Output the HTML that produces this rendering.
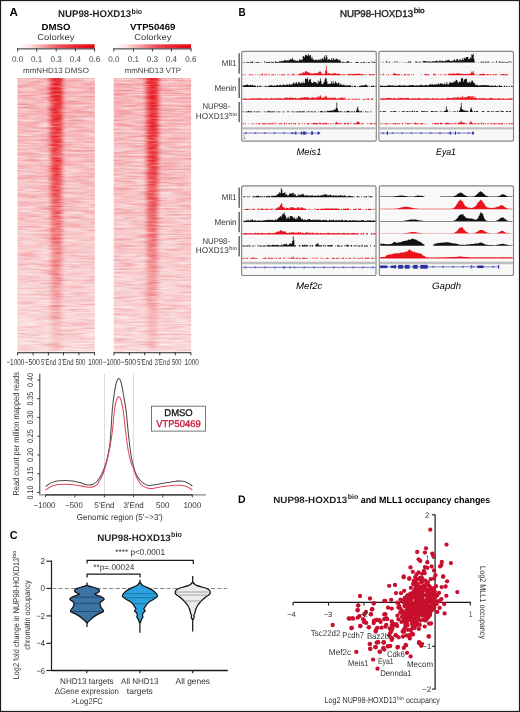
<!DOCTYPE html><html><head><meta charset="utf-8"><style>html,body{margin:0;padding:0;background:#fff;width:520px;height:712px;overflow:hidden}svg{display:block;will-change:transform}text{font-family:"Liberation Sans",sans-serif;text-rendering:geometricPrecision}</style></head><body>
<svg width="520" height="712" viewBox="0 0 520 712">
<rect x="0" y="0" width="520" height="712" fill="#fff"/>
<text x="9.60" y="16.00" font-size="11.6" text-anchor="start" font-weight="bold" fill="#000" textLength="8.4" lengthAdjust="spacingAndGlyphs">A</text>
<text x="58.1" y="17.3" font-size="9.7" font-weight="bold" fill="#231f20"><tspan textLength="73" lengthAdjust="spacingAndGlyphs">NUP98-HOXD13</tspan><tspan font-size="7.4" dy="-3.4" dx="0.5" textLength="10.6" lengthAdjust="spacingAndGlyphs">bio</tspan></text>
<text x="41.50" y="29.60" font-size="8.9" text-anchor="start" font-weight="bold" textLength="29" lengthAdjust="spacingAndGlyphs">DMSO</text>
<text x="129.90" y="29.70" font-size="8.9" text-anchor="start" font-weight="bold" textLength="45.5" lengthAdjust="spacingAndGlyphs">VTP50469</text>
<text x="37.20" y="39.80" font-size="8.6" text-anchor="start" fill="#3a3a3a" textLength="37.4" lengthAdjust="spacingAndGlyphs">Colorkey</text>
<text x="134.20" y="39.80" font-size="8.6" text-anchor="start" fill="#3a3a3a" textLength="37.2" lengthAdjust="spacingAndGlyphs">Colorkey</text>
<defs><linearGradient id="ck" x1="0" x2="1" y1="0" y2="0"><stop offset="0" stop-color="#ffffff"/><stop offset="0.15" stop-color="#fde4e5"/><stop offset="0.35" stop-color="#f59ca1"/><stop offset="0.55" stop-color="#ee4d55"/><stop offset="0.8" stop-color="#e81e28"/><stop offset="1" stop-color="#e3000e"/></linearGradient></defs>
<rect x="17.5" y="44.3" width="77.1" height="4.1" fill="url(#ck)"/>
<line x1="17.1" y1="48.9" x2="95.0" y2="48.9" stroke="#2a2a2a" stroke-width="1"/>
<line x1="17.6" y1="48.4" x2="17.6" y2="51.6" stroke="#2a2a2a" stroke-width="0.9"/>
<line x1="36.7" y1="48.4" x2="36.7" y2="51.6" stroke="#2a2a2a" stroke-width="0.9"/>
<line x1="56.2" y1="48.4" x2="56.2" y2="51.6" stroke="#2a2a2a" stroke-width="0.9"/>
<line x1="75.5" y1="48.4" x2="75.5" y2="51.6" stroke="#2a2a2a" stroke-width="0.9"/>
<line x1="94.6" y1="48.4" x2="94.6" y2="51.6" stroke="#2a2a2a" stroke-width="0.9"/>
<text x="17.60" y="61.80" font-size="8.3" text-anchor="middle" fill="#444" textLength="11.3" lengthAdjust="spacingAndGlyphs">0.0</text>
<text x="36.70" y="61.80" font-size="8.3" text-anchor="middle" fill="#444" textLength="11.3" lengthAdjust="spacingAndGlyphs">0.1</text>
<text x="56.20" y="61.80" font-size="8.3" text-anchor="middle" fill="#444" textLength="11.3" lengthAdjust="spacingAndGlyphs">0.3</text>
<text x="75.50" y="61.80" font-size="8.3" text-anchor="middle" fill="#444" textLength="11.3" lengthAdjust="spacingAndGlyphs">0.4</text>
<text x="94.60" y="61.80" font-size="8.3" text-anchor="middle" fill="#444" textLength="11.3" lengthAdjust="spacingAndGlyphs">0.6</text>
<text x="23.00" y="73.20" font-size="7.7" text-anchor="start" fill="#3a3a3a" textLength="65.9" lengthAdjust="spacingAndGlyphs">mmNHD13 DMSO</text>
<rect x="113.8" y="44.3" width="77.2" height="4.1" fill="url(#ck)"/>
<line x1="113.39999999999999" y1="48.9" x2="191.4" y2="48.9" stroke="#2a2a2a" stroke-width="1"/>
<line x1="113.8" y1="48.4" x2="113.8" y2="51.6" stroke="#2a2a2a" stroke-width="0.9"/>
<line x1="133.4" y1="48.4" x2="133.4" y2="51.6" stroke="#2a2a2a" stroke-width="0.9"/>
<line x1="152.4" y1="48.4" x2="152.4" y2="51.6" stroke="#2a2a2a" stroke-width="0.9"/>
<line x1="171.4" y1="48.4" x2="171.4" y2="51.6" stroke="#2a2a2a" stroke-width="0.9"/>
<line x1="191.0" y1="48.4" x2="191.0" y2="51.6" stroke="#2a2a2a" stroke-width="0.9"/>
<text x="113.80" y="61.80" font-size="8.3" text-anchor="middle" fill="#444" textLength="11.3" lengthAdjust="spacingAndGlyphs">0.0</text>
<text x="133.40" y="61.80" font-size="8.3" text-anchor="middle" fill="#444" textLength="11.3" lengthAdjust="spacingAndGlyphs">0.1</text>
<text x="152.40" y="61.80" font-size="8.3" text-anchor="middle" fill="#444" textLength="11.3" lengthAdjust="spacingAndGlyphs">0.3</text>
<text x="171.40" y="61.80" font-size="8.3" text-anchor="middle" fill="#444" textLength="11.3" lengthAdjust="spacingAndGlyphs">0.4</text>
<text x="191.00" y="61.80" font-size="8.3" text-anchor="middle" fill="#444" textLength="11.3" lengthAdjust="spacingAndGlyphs">0.6</text>
<text x="124.70" y="73.20" font-size="7.7" text-anchor="start" fill="#3a3a3a" textLength="56.3" lengthAdjust="spacingAndGlyphs">mmNHD13 VTP</text>
<defs><linearGradient id="hmbg" x1="0" x2="0" y1="0" y2="1"><stop offset="0" stop-color="#f4adb0"/><stop offset="0.35" stop-color="#f5b8bb"/><stop offset="0.7" stop-color="#f7c9cb"/><stop offset="1" stop-color="#f9d6d7"/></linearGradient><linearGradient id="sv" x1="0" x2="0" y1="0" y2="1"><stop offset="0" stop-color="#fff" stop-opacity="1"/><stop offset="0.3" stop-color="#fff" stop-opacity="0.88"/><stop offset="0.5" stop-color="#fff" stop-opacity="0.64"/><stop offset="0.7" stop-color="#fff" stop-opacity="0.4"/><stop offset="0.88" stop-color="#fff" stop-opacity="0.22"/><stop offset="1" stop-color="#fff" stop-opacity="0.12"/></linearGradient><filter id="fw" x="0" y="0" width="1" height="1" color-interpolation-filters="sRGB"><feTurbulence type="fractalNoise" baseFrequency="0.16 0.55" numOctaves="2" seed="3"/><feColorMatrix type="matrix" values="0 0 0 0 1  0 0 0 0 1  0 0 0 0 1  2.4 0 0 0 -0.95"/><feGaussianBlur stdDeviation="0.3 0.45"/></filter><filter id="fr" x="0" y="0" width="1" height="1" color-interpolation-filters="sRGB"><feTurbulence type="fractalNoise" baseFrequency="0.14 0.5" numOctaves="2" seed="11"/><feColorMatrix type="matrix" values="0 0 0 0 0.92  0 0 0 0 0.12  0 0 0 0 0.16  2.2 0 0 0 -1.0"/><feGaussianBlur stdDeviation="0.3 0.45"/></filter><filter id="fw1" x="0" y="0" width="1" height="1" color-interpolation-filters="sRGB"><feTurbulence type="fractalNoise" baseFrequency="0.16 0.55" numOctaves="2" seed="23"/><feColorMatrix type="matrix" values="0 0 0 0 1  0 0 0 0 1  0 0 0 0 1  2.4 0 0 0 -0.95"/><feGaussianBlur stdDeviation="0.3 0.45"/></filter><filter id="fr1" x="0" y="0" width="1" height="1" color-interpolation-filters="sRGB"><feTurbulence type="fractalNoise" baseFrequency="0.14 0.5" numOctaves="2" seed="37"/><feColorMatrix type="matrix" values="0 0 0 0 0.92  0 0 0 0 0.12  0 0 0 0 0.16  2.2 0 0 0 -1.0"/><feGaussianBlur stdDeviation="0.3 0.45"/></filter><filter id="fk" x="0" y="0" width="1" height="1" color-interpolation-filters="sRGB"><feTurbulence type="fractalNoise" baseFrequency="0.2 0.5" numOctaves="2" seed="51"/><feColorMatrix type="matrix" values="0 0 0 0 0  0 0 0 0 0  0 0 0 0 0  2.6 0 0 0 -1.0"/><feGaussianBlur stdDeviation="0.3 0.4"/></filter><filter id="fk1" x="0" y="0" width="1" height="1" color-interpolation-filters="sRGB"><feTurbulence type="fractalNoise" baseFrequency="0.2 0.5" numOctaves="2" seed="77"/><feColorMatrix type="matrix" values="0 0 0 0 0  0 0 0 0 0  0 0 0 0 0  2.6 0 0 0 -1.0"/><feGaussianBlur stdDeviation="0.3 0.4"/></filter><filter id="fb" x="-0.5" y="-0.02" width="2" height="1.04"><feGaussianBlur stdDeviation="2.1 0.3"/></filter></defs>
<g>
<rect x="17.5" y="78.0" width="77.3" height="273.3" fill="url(#hmbg)"/>
<g transform="translate(17.5 78.0) scale(3.5 1)"><rect x="0" y="0" width="22.09" height="273.3" filter="url(#fr)" opacity="0.28"/></g>
<g transform="translate(17.5 78.0) scale(3.5 1)"><rect x="0" y="0" width="22.09" height="273.3" filter="url(#fw)" opacity="0.45"/></g>
<mask id="sm0" maskUnits="userSpaceOnUse" x="17.5" y="78.0" width="77.3" height="273.3"><rect x="17.5" y="78.0" width="77.3" height="273.3" fill="url(#sv)"/><g transform="translate(17.5 78.0) scale(2.5 1)"><rect x="0" y="0" width="30.92" height="273.3" filter="url(#fk)" opacity="0.42"/></g></mask>
<g mask="url(#sm0)"><polygon points="49.7,78.0 62.7,78.0 61.9,168.0 61.5,258.0 61.1,351.3 51.5,351.3 51.1,258.0 50.7,168.0" fill="#e5121b" filter="url(#fb)"/></g>
<g transform="translate(17.5 78.0) scale(3.5 1)"><rect x="0" y="0" width="22.09" height="273.3" filter="url(#fw)" opacity="0.18"/></g>
</g>
<line x1="17.5" y1="352.8" x2="94.8" y2="352.8" stroke="#222" stroke-width="1.1"/>
<line x1="17.6" y1="352.3" x2="17.6" y2="355.4" stroke="#222" stroke-width="0.9"/>
<line x1="33.1" y1="352.3" x2="33.1" y2="355.4" stroke="#222" stroke-width="0.9"/>
<line x1="48.4" y1="352.3" x2="48.4" y2="355.4" stroke="#222" stroke-width="0.9"/>
<line x1="63.5" y1="352.3" x2="63.5" y2="355.4" stroke="#222" stroke-width="0.9"/>
<line x1="78.9" y1="352.3" x2="78.9" y2="355.4" stroke="#222" stroke-width="0.9"/>
<line x1="94.6" y1="352.3" x2="94.6" y2="355.4" stroke="#222" stroke-width="0.9"/>
<text x="15.35" y="365.00" font-size="8.6" text-anchor="middle" fill="#333" textLength="17.9" lengthAdjust="spacingAndGlyphs">&#8722;1000</text>
<text x="32.10" y="365.00" font-size="8.6" text-anchor="middle" fill="#333" textLength="15.4" lengthAdjust="spacingAndGlyphs">&#8722;500</text>
<text x="48.45" y="365.00" font-size="8.6" text-anchor="middle" fill="#333" textLength="14.9" lengthAdjust="spacingAndGlyphs">5’End</text>
<text x="65.80" y="365.00" font-size="8.6" text-anchor="middle" fill="#333" textLength="15.4" lengthAdjust="spacingAndGlyphs">3’End</text>
<text x="80.45" y="365.00" font-size="8.6" text-anchor="middle" fill="#333" textLength="9.6" lengthAdjust="spacingAndGlyphs">500</text>
<text x="95.35" y="365.00" font-size="8.6" text-anchor="middle" fill="#333" textLength="14.0" lengthAdjust="spacingAndGlyphs">1000</text>
<g>
<rect x="113.8" y="78.0" width="77.2" height="273.3" fill="url(#hmbg)"/>
<g transform="translate(113.8 78.0) scale(3.5 1)"><rect x="0" y="0" width="22.06" height="273.3" filter="url(#fr1)" opacity="0.28"/></g>
<g transform="translate(113.8 78.0) scale(3.5 1)"><rect x="0" y="0" width="22.06" height="273.3" filter="url(#fw1)" opacity="0.45"/></g>
<mask id="sm1" maskUnits="userSpaceOnUse" x="113.8" y="78.0" width="77.2" height="273.3"><rect x="113.8" y="78.0" width="77.2" height="273.3" fill="url(#sv)"/><g transform="translate(113.8 78.0) scale(2.5 1)"><rect x="0" y="0" width="30.88" height="273.3" filter="url(#fk1)" opacity="0.42"/></g></mask>
<g mask="url(#sm1)"><polygon points="145.8,78.0 158.8,78.0 158.0,168.0 157.6,258.0 157.2,351.3 147.6,351.3 147.2,258.0 146.8,168.0" fill="#e5121b" filter="url(#fb)"/></g>
<g transform="translate(113.8 78.0) scale(3.5 1)"><rect x="0" y="0" width="22.06" height="273.3" filter="url(#fw1)" opacity="0.18"/></g>
</g>
<line x1="113.8" y1="352.8" x2="191.0" y2="352.8" stroke="#222" stroke-width="1.1"/>
<line x1="113.9" y1="352.3" x2="113.9" y2="355.4" stroke="#222" stroke-width="0.9"/>
<line x1="129.4" y1="352.3" x2="129.4" y2="355.4" stroke="#222" stroke-width="0.9"/>
<line x1="144.7" y1="352.3" x2="144.7" y2="355.4" stroke="#222" stroke-width="0.9"/>
<line x1="159.8" y1="352.3" x2="159.8" y2="355.4" stroke="#222" stroke-width="0.9"/>
<line x1="175.2" y1="352.3" x2="175.2" y2="355.4" stroke="#222" stroke-width="0.9"/>
<line x1="190.9" y1="352.3" x2="190.9" y2="355.4" stroke="#222" stroke-width="0.9"/>
<text x="111.65" y="365.00" font-size="8.6" text-anchor="middle" fill="#333" textLength="17.9" lengthAdjust="spacingAndGlyphs">&#8722;1000</text>
<text x="128.40" y="365.00" font-size="8.6" text-anchor="middle" fill="#333" textLength="15.4" lengthAdjust="spacingAndGlyphs">&#8722;500</text>
<text x="144.75" y="365.00" font-size="8.6" text-anchor="middle" fill="#333" textLength="14.9" lengthAdjust="spacingAndGlyphs">5’End</text>
<text x="162.10" y="365.00" font-size="8.6" text-anchor="middle" fill="#333" textLength="15.4" lengthAdjust="spacingAndGlyphs">3’End</text>
<text x="176.75" y="365.00" font-size="8.6" text-anchor="middle" fill="#333" textLength="9.6" lengthAdjust="spacingAndGlyphs">500</text>
<text x="191.65" y="365.00" font-size="8.6" text-anchor="middle" fill="#333" textLength="14.0" lengthAdjust="spacingAndGlyphs">1000</text>
<line x1="39.8" y1="373.8" x2="39.8" y2="494.6" stroke="#333" stroke-width="1"/>
<line x1="39.3" y1="494.9" x2="206" y2="494.9" stroke="#888" stroke-width="1.4"/>
<line x1="45.6" y1="494.9" x2="192.4" y2="494.9" stroke="#333" stroke-width="1.4"/>
<line x1="37.2" y1="492.5" x2="39.8" y2="492.5" stroke="#333" stroke-width="0.9"/>
<text transform="translate(33.2 492.5) rotate(-90)" font-size="8.3" text-anchor="middle" fill="#333" textLength="13.8" lengthAdjust="spacingAndGlyphs">0.10</text>
<line x1="37.2" y1="473.8" x2="39.8" y2="473.8" stroke="#333" stroke-width="0.9"/>
<text transform="translate(33.2 473.8) rotate(-90)" font-size="8.3" text-anchor="middle" fill="#333" textLength="13.8" lengthAdjust="spacingAndGlyphs">0.15</text>
<line x1="37.2" y1="455.0" x2="39.8" y2="455.0" stroke="#333" stroke-width="0.9"/>
<text transform="translate(33.2 455.0) rotate(-90)" font-size="8.3" text-anchor="middle" fill="#333" textLength="13.8" lengthAdjust="spacingAndGlyphs">0.20</text>
<line x1="37.2" y1="436.2" x2="39.8" y2="436.2" stroke="#333" stroke-width="0.9"/>
<text transform="translate(33.2 436.2) rotate(-90)" font-size="8.3" text-anchor="middle" fill="#333" textLength="13.8" lengthAdjust="spacingAndGlyphs">0.25</text>
<line x1="37.2" y1="417.4" x2="39.8" y2="417.4" stroke="#333" stroke-width="0.9"/>
<text transform="translate(33.2 417.4) rotate(-90)" font-size="8.3" text-anchor="middle" fill="#333" textLength="13.8" lengthAdjust="spacingAndGlyphs">0.30</text>
<line x1="37.2" y1="398.7" x2="39.8" y2="398.7" stroke="#333" stroke-width="0.9"/>
<text transform="translate(33.2 398.7) rotate(-90)" font-size="8.3" text-anchor="middle" fill="#333" textLength="13.8" lengthAdjust="spacingAndGlyphs">0.35</text>
<line x1="37.2" y1="380.0" x2="39.8" y2="380.0" stroke="#333" stroke-width="0.9"/>
<text transform="translate(33.2 380.0) rotate(-90)" font-size="8.3" text-anchor="middle" fill="#333" textLength="13.8" lengthAdjust="spacingAndGlyphs">0.40</text>
<line x1="45.6" y1="494.9" x2="45.6" y2="497.4" stroke="#333" stroke-width="0.9"/>
<text x="44.60" y="507.70" font-size="8.2" text-anchor="middle" fill="#333" textLength="21.5" lengthAdjust="spacingAndGlyphs">&#8722;1000</text>
<line x1="75.0" y1="494.9" x2="75.0" y2="497.4" stroke="#333" stroke-width="0.9"/>
<text x="74.00" y="507.70" font-size="8.2" text-anchor="middle" fill="#333" textLength="17.5" lengthAdjust="spacingAndGlyphs">&#8722;500</text>
<line x1="104.4" y1="494.9" x2="104.4" y2="497.4" stroke="#333" stroke-width="0.9"/>
<text x="104.40" y="507.70" font-size="8.2" text-anchor="middle" fill="#333" textLength="20.2" lengthAdjust="spacingAndGlyphs">5’End</text>
<line x1="133.6" y1="494.9" x2="133.6" y2="497.4" stroke="#333" stroke-width="0.9"/>
<text x="133.60" y="507.70" font-size="8.2" text-anchor="middle" fill="#333" textLength="20.4" lengthAdjust="spacingAndGlyphs">3’End</text>
<line x1="162.8" y1="494.9" x2="162.8" y2="497.4" stroke="#333" stroke-width="0.9"/>
<text x="162.80" y="507.70" font-size="8.2" text-anchor="middle" fill="#333" textLength="13.4" lengthAdjust="spacingAndGlyphs">500</text>
<line x1="192.3" y1="494.9" x2="192.3" y2="497.4" stroke="#333" stroke-width="0.9"/>
<text x="192.30" y="507.70" font-size="8.2" text-anchor="middle" fill="#333" textLength="17.8" lengthAdjust="spacingAndGlyphs">1000</text>
<text x="119.80" y="520.30" font-size="8.6" text-anchor="middle" fill="#333" textLength="86" lengthAdjust="spacingAndGlyphs">Genomic region (5’&#8722;&gt;3’)</text>
<text transform="translate(19.4 433.8) rotate(-90)" font-size="8.6" text-anchor="middle" fill="#333" textLength="123.5" lengthAdjust="spacingAndGlyphs">Read count per million mapped reads</text>
<line x1="104.5" y1="373.8" x2="104.5" y2="494" stroke="#d8d8d8" stroke-width="0.9"/>
<line x1="133.5" y1="373.8" x2="133.5" y2="494" stroke="#d8d8d8" stroke-width="0.9"/>
<path d="M45.60,486.60 C46.33,486.07 48.43,484.27 50.00,483.40 C51.57,482.53 53.33,481.85 55.00,481.40 C56.67,480.95 58.33,480.85 60.00,480.70 C61.67,480.55 63.33,480.48 65.00,480.50 C66.67,480.52 68.33,480.65 70.00,480.80 C71.67,480.95 73.33,481.10 75.00,481.40 C76.67,481.70 78.33,482.13 80.00,482.60 C81.67,483.07 83.50,483.80 85.00,484.20 C86.50,484.60 87.67,485.00 89.00,485.00 C90.33,485.00 91.67,484.78 93.00,484.20 C94.33,483.62 95.83,482.67 97.00,481.50 C98.17,480.33 99.08,478.70 100.00,477.20 C100.92,475.70 101.75,474.12 102.50,472.50 C103.25,470.88 103.75,469.75 104.50,467.50 C105.25,465.25 106.08,463.08 107.00,459.00 C107.92,454.92 109.12,451.17 110.00,443.00 C110.88,434.83 111.55,418.50 112.30,410.00 C113.05,401.50 113.80,396.67 114.50,392.00 C115.20,387.33 115.78,384.27 116.50,382.00 C117.22,379.73 118.05,378.40 118.80,378.40 C119.55,378.40 120.30,379.73 121.00,382.00 C121.70,384.27 122.17,387.33 123.00,392.00 C123.83,396.67 125.08,402.83 126.00,410.00 C126.92,417.17 127.67,427.50 128.50,435.00 C129.33,442.50 130.17,449.77 131.00,455.00 C131.83,460.23 132.67,463.23 133.50,466.40 C134.33,469.57 134.92,471.73 136.00,474.00 C137.08,476.27 138.67,478.40 140.00,480.00 C141.33,481.60 142.55,482.68 144.00,483.60 C145.45,484.52 146.87,485.30 148.70,485.50 C150.53,485.70 152.62,485.17 155.00,484.80 C157.38,484.43 160.50,483.73 163.00,483.30 C165.50,482.87 167.83,482.55 170.00,482.20 C172.17,481.85 174.33,481.42 176.00,481.20 C177.67,480.98 178.50,480.82 180.00,480.90 C181.50,480.98 183.50,481.25 185.00,481.70 C186.50,482.15 187.78,482.88 189.00,483.60 C190.22,484.32 191.75,485.60 192.30,486.00" fill="none" stroke="#4d4d4d" stroke-width="1.05"/>
<path d="M45.60,490.00 C46.33,489.50 48.43,487.80 50.00,487.00 C51.57,486.20 53.33,485.62 55.00,485.20 C56.67,484.78 58.33,484.67 60.00,484.50 C61.67,484.33 63.33,484.20 65.00,484.20 C66.67,484.20 68.33,484.38 70.00,484.50 C71.67,484.62 73.33,484.68 75.00,484.90 C76.67,485.12 78.33,485.50 80.00,485.80 C81.67,486.10 83.33,486.45 85.00,486.70 C86.67,486.95 88.50,487.35 90.00,487.30 C91.50,487.25 92.83,486.85 94.00,486.40 C95.17,485.95 96.00,485.67 97.00,484.60 C98.00,483.53 99.08,481.57 100.00,480.00 C100.92,478.43 101.75,476.90 102.50,475.20 C103.25,473.50 103.75,472.17 104.50,469.80 C105.25,467.43 106.08,464.80 107.00,461.00 C107.92,457.20 109.08,452.17 110.00,447.00 C110.92,441.83 111.75,436.17 112.50,430.00 C113.25,423.83 113.83,415.00 114.50,410.00 C115.17,405.00 115.78,402.20 116.50,400.00 C117.22,397.80 118.05,396.80 118.80,396.80 C119.55,396.80 120.23,397.47 121.00,400.00 C121.77,402.53 122.57,406.17 123.40,412.00 C124.23,417.83 125.15,428.33 126.00,435.00 C126.85,441.67 127.67,447.42 128.50,452.00 C129.33,456.58 130.17,459.75 131.00,462.50 C131.83,465.25 132.67,466.25 133.50,468.50 C134.33,470.75 134.92,473.55 136.00,476.00 C137.08,478.45 138.67,481.43 140.00,483.20 C141.33,484.97 142.33,485.70 144.00,486.60 C145.67,487.50 148.00,488.40 150.00,488.60 C152.00,488.80 153.83,488.15 156.00,487.80 C158.17,487.45 160.67,486.83 163.00,486.50 C165.33,486.17 168.00,486.00 170.00,485.80 C172.00,485.60 173.33,485.40 175.00,485.30 C176.67,485.20 178.33,485.08 180.00,485.20 C181.67,485.32 183.50,485.57 185.00,486.00 C186.50,486.43 187.78,487.15 189.00,487.80 C190.22,488.45 191.75,489.55 192.30,489.90" fill="none" stroke="#e0485e" stroke-width="1.05"/>
<rect x="151.4" y="406.2" width="54.2" height="24.9" fill="#fff" stroke="#555" stroke-width="0.8"/>
<text x="178.50" y="416.30" font-size="9.8" text-anchor="middle" fill="#1a1a1a" textLength="28.4" lengthAdjust="spacingAndGlyphs" stroke="#1a1a1a" stroke-width="0.35">DMSO</text>
<text x="178.50" y="427.30" font-size="9.8" text-anchor="middle" fill="#c9183a" textLength="44.6" lengthAdjust="spacingAndGlyphs" stroke="#c9183a" stroke-width="0.35">VTP50469</text>
<text x="238.40" y="16.00" font-size="11.6" text-anchor="start" font-weight="bold" fill="#000" textLength="7.2" lengthAdjust="spacingAndGlyphs">B</text>
<text x="339.9" y="16.9" font-size="9.9" fill="#231f20" stroke="#231f20" stroke-width="0.4"><tspan textLength="73.2" lengthAdjust="spacingAndGlyphs">NUP98-HOXD13</tspan><tspan font-size="7.4" dy="-3.5" dx="0.6" textLength="11" lengthAdjust="spacingAndGlyphs">bio</tspan></text>
<rect x="241.7" y="51.4" width="134.6" height="89.8" rx="1.6" fill="#f8f8f8" stroke="#858585" stroke-width="1.2"/>
<line x1="242.29999999999998" y1="63.8" x2="375.7" y2="63.8" stroke="#fdfdfd" stroke-width="0.9"/>
<line x1="242.29999999999998" y1="76.3" x2="375.7" y2="76.3" stroke="#fdfdfd" stroke-width="0.9"/>
<line x1="242.29999999999998" y1="88.0" x2="375.7" y2="88.0" stroke="#fdfdfd" stroke-width="0.9"/>
<line x1="242.29999999999998" y1="100.9" x2="375.7" y2="100.9" stroke="#fdfdfd" stroke-width="0.9"/>
<line x1="242.29999999999998" y1="113.4" x2="375.7" y2="113.4" stroke="#fdfdfd" stroke-width="0.9"/>
<line x1="242.29999999999998" y1="125.3" x2="375.7" y2="125.3" stroke="#fdfdfd" stroke-width="0.9"/>
<rect x="242.29999999999998" y="127.3" width="133.4" height="2.4" fill="#bebebe"/>
<rect x="242.29999999999998" y="129.7" width="133.4" height="1.4" fill="#fcfcfc"/>
<path d="M242.70,62.7V62.0H243.45V62.7ZM244.20,62.7V62.0H244.95V62.7ZM246.45,62.7V62.0H247.20V62.0H247.95V62.0H248.70V62.0H249.45V62.7ZM250.20,62.7V61.8H250.95V62.0H251.70V61.9H252.45V61.1H253.20V62.7ZM254.70,62.7V62.0H255.45V62.7ZM256.20,62.7V61.9H256.95V62.0H257.70V61.9H258.45V61.7H259.20V62.7ZM260.70,62.7V62.0H261.45V62.7ZM264.45,62.7V61.1H265.20V62.7ZM265.95,62.7V62.0H266.70V61.9H267.45V62.0H268.20V61.9H268.95V62.0H269.70V61.7H270.45V62.7ZM271.20,62.7V61.7H271.95V61.9H272.70V61.9H273.45V62.0H274.20V62.7ZM274.95,62.7V61.1H275.70V61.7H276.45V62.0H277.20V62.0H277.95V61.8H278.70V61.7H279.45V61.3H280.20V61.5H280.95V61.0H281.70V61.1H282.45V61.3H283.20V60.7H283.95V60.0H284.70V60.4H285.45V59.9H286.20V61.1H286.95V60.1H287.70V60.9H288.45V60.1H289.20V59.7H289.95V59.0H290.70V59.7H291.45V59.1H292.20V57.7H292.95V59.9H293.70V59.8H294.45V60.5H295.20V60.5H295.95V61.1H296.70V60.7H297.45V60.4H298.20V61.3H298.95V59.8H299.70V59.3H300.45V60.3H301.20V59.7H301.95V59.8H302.70V56.2H303.45V56.2H304.20V57.3H304.95V54.6H305.70V55.4H306.45V54.9H307.20V55.8H307.95V54.1H308.70V56.2H309.45V55.2H310.20V54.9H310.95V58.4H311.70V56.7H312.45V58.9H313.20V59.4H313.95V60.0H314.70V60.3H315.45V59.6H316.20V59.8H316.95V60.3H317.70V60.4H318.45V59.0H319.20V60.0H319.95V58.9H320.70V60.4H321.45V58.8H322.20V58.3H322.95V59.6H323.70V57.3H324.45V55.5H325.20V58.8H325.95V55.0H326.70V56.9H327.45V60.2H328.20V59.2H328.95V59.0H329.70V60.0H330.45V59.9H331.20V58.3H331.95V60.3H332.70V58.1H333.45V58.7H334.20V60.0H334.95V59.4H335.70V58.5H336.45V58.8H337.20V59.6H337.95V59.6H338.70V60.7H339.45V59.4H340.20V60.8H340.95V62.7ZM341.70,62.7V61.7H342.45V62.0H343.20V61.7H343.95V62.0H344.70V62.7ZM345.45,62.7V61.8H346.20V62.0H346.95V61.2H347.70V61.6H348.45V61.1H349.20V62.7ZM349.95,62.7V62.0H350.70V62.7ZM351.45,62.7V62.0H352.20V62.7ZM355.20,62.7V62.0H355.95V61.8H356.70V62.0H357.45V62.0H358.20V61.9H358.95V62.7ZM360.45,62.7V61.9H361.20V62.0H361.95V62.7ZM362.70,62.7V61.9H363.45V62.0H364.20V61.8H364.95V62.7ZM366.45,62.7V62.0H367.20V62.7ZM367.95,62.7V62.0H368.70V62.0H369.45V62.0H370.20V62.7ZM371.70,62.7V61.1H372.45V62.7ZM373.20,62.7V61.9H373.95V61.8H374.70V61.9H375.45V62.7Z" fill="#111111"/>
<path d="M242.70,75.2V74.4H243.45V74.5H244.20V75.2ZM244.95,75.2V74.4H245.70V75.2ZM248.70,75.2V74.5H249.45V74.4H250.20V74.3H250.95V75.2ZM251.70,75.2V74.2H252.45V74.4H253.20V75.2ZM254.70,75.2V74.5H255.45V75.2ZM256.95,75.2V74.5H257.70V75.2ZM259.20,75.2V74.2H259.95V75.2ZM260.70,75.2V74.5H261.45V74.3H262.20V73.6H262.95V75.2ZM263.70,75.2V74.5H264.45V74.5H265.20V74.5H265.95V73.6H266.70V75.2ZM268.20,75.2V74.3H268.95V74.2H269.70V75.2ZM271.20,75.2V74.5H271.95V74.5H272.70V74.2H273.45V74.2H274.20V75.2ZM274.95,75.2V74.4H275.70V75.2ZM277.20,75.2V74.3H277.95V75.2ZM279.45,75.2V74.3H280.20V75.2ZM280.95,75.2V74.4H281.70V74.3H282.45V74.5H283.20V74.5H283.95V74.3H284.70V74.5H285.45V75.2ZM286.95,75.2V74.5H287.70V74.2H288.45V74.5H289.20V75.2ZM290.70,75.2V74.3H291.45V75.2ZM292.20,75.2V74.3H292.95V73.6H293.70V74.4H294.45V74.5H295.20V75.2ZM296.70,75.2V74.3H297.45V75.2ZM298.20,75.2V73.9H298.95V74.2H299.70V73.7H300.45V73.0H301.20V73.7H301.95V73.6H302.70V72.1H303.45V72.8H304.20V72.8H304.95V71.6H305.70V71.2H306.45V71.2H307.20V72.2H307.95V72.0H308.70V73.0H309.45V72.6H310.20V73.8H310.95V73.6H311.70V73.3H312.45V73.9H313.20V73.3H313.95V73.5H314.70V72.9H315.45V73.6H316.20V72.9H316.95V72.9H317.70V73.4H318.45V72.1H319.20V71.5H319.95V71.2H320.70V72.3H321.45V74.0H322.20V73.8H322.95V74.3H323.70V74.1H324.45V73.6H325.20V70.1H325.95V65.8H326.70V71.4H327.45V73.9H328.20V73.1H328.95V73.6H329.70V73.4H330.45V73.7H331.20V73.7H331.95V73.4H332.70V73.9H333.45V73.0H334.20V73.3H334.95V73.0H335.70V73.9H336.45V73.5H337.20V74.1H337.95V73.2H338.70V74.1H339.45V73.7H340.20V74.2H340.95V74.5H341.70V75.2ZM342.45,75.2V74.1H343.20V74.4H343.95V74.1H344.70V75.2ZM345.45,75.2V74.5H346.20V75.2ZM346.95,75.2V74.3H347.70V74.1H348.45V74.5H349.20V73.8H349.95V73.8H350.70V74.4H351.45V73.7H352.20V74.0H352.95V73.9H353.70V73.9H354.45V74.0H355.20V74.1H355.95V73.8H356.70V73.6H357.45V74.0H358.20V73.8H358.95V73.6H359.70V74.4H360.45V73.7H361.20V73.9H361.95V74.4H362.70V74.0H363.45V74.4H364.20V75.2ZM364.95,75.2V74.0H365.70V75.2ZM366.45,75.2V74.3H367.20V75.2ZM368.70,75.2V74.1H369.45V74.3H370.20V74.3H370.95V74.5H371.70V74.5H372.45V74.0H373.20V74.3H373.95V74.3H374.70V75.2Z" fill="#e8111c"/>
<path d="M242.70,86.9V85.4H243.45V85.2H244.20V85.5H244.95V85.0H245.70V84.9H246.45V84.7H247.20V84.6H247.95V85.3H248.70V85.0H249.45V85.6H250.20V84.8H250.95V85.6H251.70V84.7H252.45V84.9H253.20V85.7H253.95V85.6H254.70V85.4H255.45V86.1H256.20V86.9ZM256.95,86.9V85.5H257.70V86.0H258.45V86.9ZM259.20,86.9V85.8H259.95V85.6H260.70V86.9ZM261.45,86.9V85.7H262.20V86.9ZM263.70,86.9V86.1H264.45V86.9ZM265.20,86.9V85.8H265.95V86.0H266.70V86.9ZM267.45,86.9V85.8H268.20V86.1H268.95V85.7H269.70V85.2H270.45V85.4H271.20V85.1H271.95V85.6H272.70V85.9H273.45V85.5H274.20V85.3H274.95V85.9H275.70V85.7H276.45V84.8H277.20V85.0H277.95V85.6H278.70V85.5H279.45V84.7H280.20V84.8H280.95V85.6H281.70V85.5H282.45V84.4H283.20V84.6H283.95V85.1H284.70V85.5H285.45V84.7H286.20V84.7H286.95V84.6H287.70V84.5H288.45V85.2H289.20V83.7H289.95V84.4H290.70V85.0H291.45V84.2H292.20V83.9H292.95V82.7H293.70V82.5H294.45V84.1H295.20V83.3H295.95V82.0H296.70V83.3H297.45V84.1H298.20V81.9H298.95V82.0H299.70V83.5H300.45V83.3H301.20V82.5H301.95V83.5H302.70V81.4H303.45V83.1H304.20V83.0H304.95V78.5H305.70V78.9H306.45V79.1H307.20V77.5H307.95V81.7H308.70V79.8H309.45V79.3H310.20V79.3H310.95V82.1H311.70V82.9H312.45V83.1H313.20V81.4H313.95V82.0H314.70V82.3H315.45V82.3H316.20V82.7H316.95V83.9H317.70V80.5H318.45V82.4H319.20V81.3H319.95V78.4H320.70V80.9H321.45V84.0H322.20V84.3H322.95V83.2H323.70V82.1H324.45V79.8H325.20V77.7H325.95V78.4H326.70V81.5H327.45V84.1H328.20V83.7H328.95V83.9H329.70V84.1H330.45V83.3H331.20V81.4H331.95V83.8H332.70V80.8H333.45V83.1H334.20V83.7H334.95V81.2H335.70V82.2H336.45V83.5H337.20V83.5H337.95V82.6H338.70V83.0H339.45V85.2H340.20V83.8H340.95V84.5H341.70V84.8H342.45V85.5H343.20V84.5H343.95V84.7H344.70V85.7H345.45V85.5H346.20V85.2H346.95V85.4H347.70V85.4H348.45V85.2H349.20V85.2H349.95V85.5H350.70V85.4H351.45V86.9ZM352.20,86.9V85.8H352.95V86.9ZM353.70,86.9V85.8H354.45V85.9H355.20V85.7H355.95V86.9ZM357.45,86.9V86.1H358.20V86.9ZM358.95,86.9V85.7H359.70V86.0H360.45V85.4H361.20V85.5H361.95V85.7H362.70V84.9H363.45V85.7H364.20V85.3H364.95V84.9H365.70V84.4H366.45V85.3H367.20V86.0H367.95V86.9ZM368.70,86.9V85.7H369.45V86.9ZM370.95,86.9V85.7H371.70V86.2H372.45V85.8H373.20V85.6H373.95V86.9ZM374.70,86.9V85.7H375.45V86.9Z" fill="#111111"/>
<path d="M242.70,99.8V98.4H243.45V98.4H244.20V98.6H244.95V98.8H245.70V98.1H246.45V98.8H247.20V98.9H247.95V98.9H248.70V98.2H249.45V98.9H250.20V98.3H250.95V98.6H251.70V98.2H252.45V98.2H253.20V98.6H253.95V98.4H254.70V98.6H255.45V98.3H256.20V98.5H256.95V98.2H257.70V98.2H258.45V98.1H259.20V98.6H259.95V98.6H260.70V98.1H261.45V98.3H262.20V98.7H262.95V98.2H263.70V98.9H264.45V98.2H265.20V98.3H265.95V98.2H266.70V98.6H267.45V98.8H268.20V98.1H268.95V98.9H269.70V98.8H270.45V98.1H271.20V98.1H271.95V98.3H272.70V98.8H273.45V98.1H274.20V98.8H274.95V97.9H275.70V98.8H276.45V98.0H277.20V98.1H277.95V98.7H278.70V97.8H279.45V98.4H280.20V98.3H280.95V97.9H281.70V98.8H282.45V98.5H283.20V98.3H283.95V98.5H284.70V97.6H285.45V97.6H286.20V98.1H286.95V97.6H287.70V98.3H288.45V98.0H289.20V97.5H289.95V97.7H290.70V97.8H291.45V97.7H292.20V97.4H292.95V98.0H293.70V98.4H294.45V98.1H295.20V97.8H295.95V98.5H296.70V98.0H297.45V98.6H298.20V98.6H298.95V97.9H299.70V97.9H300.45V97.6H301.20V98.1H301.95V97.3H302.70V98.3H303.45V97.2H304.20V97.2H304.95V97.0H305.70V97.7H306.45V97.3H307.20V97.0H307.95V97.6H308.70V97.7H309.45V98.4H310.20V98.1H310.95V98.0H311.70V97.3H312.45V97.5H313.20V97.4H313.95V97.5H314.70V98.6H315.45V97.9H316.20V97.1H316.95V97.8H317.70V95.7H318.45V97.5H319.20V96.5H319.95V95.3H320.70V96.8H321.45V98.1H322.20V97.8H322.95V97.7H323.70V97.7H324.45V96.4H325.20V96.8H325.95V95.8H326.70V97.4H327.45V98.2H328.20V98.1H328.95V97.7H329.70V97.6H330.45V98.6H331.20V97.7H331.95V97.5H332.70V98.0H333.45V97.7H334.20V97.6H334.95V97.7H335.70V98.6H336.45V98.5H337.20V98.7H337.95V98.3H338.70V98.0H339.45V98.6H340.20V97.5H340.95V98.1H341.70V97.5H342.45V97.5H343.20V98.2H343.95V98.3H344.70V97.8H345.45V99.8ZM346.20,99.8V99.0H346.95V99.8ZM347.70,99.8V98.9H348.45V98.6H349.20V98.8H349.95V99.8ZM351.45,99.8V98.7H352.20V98.8H352.95V99.8ZM353.70,99.8V98.7H354.45V98.7H355.20V98.9H355.95V98.6H356.70V99.8ZM357.45,99.8V98.8H358.20V98.9H358.95V98.5H359.70V99.8ZM362.70,99.8V99.0H363.45V98.9H364.20V98.7H364.95V99.8ZM365.70,99.8V98.4H366.45V99.8ZM367.20,99.8V98.6H367.95V98.4H368.70V98.5H369.45V99.8ZM370.95,99.8V98.5H371.70V98.5H372.45V98.8H373.20V99.8Z" fill="#e8111c"/>
<path d="M242.70,112.3V111.5H243.45V111.5H244.20V112.3ZM245.70,112.3V111.4H246.45V111.5H247.20V111.5H247.95V110.7H248.70V111.2H249.45V111.5H250.20V111.5H250.95V111.3H251.70V111.5H252.45V112.3ZM253.95,112.3V111.3H254.70V111.5H255.45V112.3ZM256.20,112.3V111.5H256.95V111.5H257.70V111.4H258.45V111.4H259.20V112.3ZM259.95,112.3V111.5H260.70V112.3ZM263.70,112.3V111.3H264.45V112.3ZM265.20,112.3V111.5H265.95V112.3ZM266.70,112.3V111.5H267.45V111.5H268.20V110.7H268.95V111.3H269.70V111.5H270.45V111.5H271.20V111.5H271.95V111.5H272.70V111.5H273.45V111.3H274.20V111.5H274.95V112.3ZM276.45,112.3V111.2H277.20V112.3ZM277.95,112.3V111.5H278.70V111.4H279.45V111.4H280.20V112.3ZM281.70,112.3V111.4H282.45V112.3ZM283.20,112.3V111.4H283.95V111.5H284.70V112.3ZM286.95,112.3V111.3H287.70V112.3ZM288.45,112.3V111.1H289.20V112.3ZM291.45,112.3V111.4H292.20V111.3H292.95V112.3ZM293.70,112.3V111.5H294.45V111.5H295.20V112.3ZM295.95,112.3V111.5H296.70V111.5H297.45V111.5H298.20V111.4H298.95V111.5H299.70V111.2H300.45V111.2H301.20V112.3ZM301.95,112.3V111.0H302.70V111.5H303.45V111.2H304.20V111.4H304.95V112.3ZM306.45,112.3V111.2H307.20V112.3ZM307.95,112.3V110.7H308.70V112.3ZM309.45,112.3V111.3H310.20V112.3ZM310.95,112.3V111.2H311.70V111.4H312.45V111.5H313.20V112.3ZM313.95,112.3V111.5H314.70V111.5H315.45V111.5H316.20V112.3ZM318.45,112.3V111.5H319.20V112.3ZM319.95,112.3V111.3H320.70V111.0H321.45V111.1H322.20V111.5H322.95V111.4H323.70V112.3ZM324.45,112.3V111.3H325.20V111.5H325.95V112.3ZM326.70,112.3V110.7H327.45V110.8H328.20V111.1H328.95V110.7H329.70V111.0H330.45V110.3H331.20V110.5H331.95V110.6H332.70V111.0H333.45V109.6H334.20V109.5H334.95V109.7H335.70V107.9H336.45V102.6H337.20V108.4H337.95V110.9H338.70V111.0H339.45V112.3ZM340.20,112.3V111.1H340.95V111.3H341.70V112.3ZM342.45,112.3V111.4H343.20V112.3ZM343.95,112.3V111.2H344.70V112.3ZM345.45,112.3V111.4H346.20V111.5H346.95V111.1H347.70V110.7H348.45V111.0H349.20V111.4H349.95V112.3ZM350.70,112.3V111.4H351.45V111.3H352.20V111.5H352.95V112.3ZM353.70,112.3V111.5H354.45V111.1H355.20V112.3ZM355.95,112.3V111.1H356.70V108.5H357.45V106.6H358.20V110.1H358.95V111.5H359.70V111.3H360.45V111.5H361.20V110.7H361.95V112.3ZM362.70,112.3V111.4H363.45V112.3ZM364.95,112.3V111.5H365.70V111.2H366.45V112.3ZM367.20,112.3V111.4H367.95V111.5H368.70V112.3ZM370.20,112.3V111.5H370.95V111.5H371.70V112.3Z" fill="#111111"/>
<path d="M242.70,124.2V123.3H243.45V123.3H244.20V124.2ZM244.95,124.2V123.3H245.70V124.2ZM247.95,124.2V123.5H248.70V124.2ZM250.95,124.2V123.4H251.70V124.2ZM252.45,124.2V123.5H253.20V123.4H253.95V124.2ZM254.70,124.2V123.5H255.45V124.2ZM256.20,124.2V123.2H256.95V124.2ZM257.70,124.2V123.5H258.45V123.5H259.20V123.1H259.95V123.4H260.70V124.2ZM262.20,124.2V123.3H262.95V123.0H263.70V123.4H264.45V123.1H265.20V123.3H265.95V124.2ZM266.70,124.2V123.5H267.45V123.4H268.20V123.2H268.95V123.4H269.70V123.2H270.45V123.2H271.20V123.5H271.95V123.4H272.70V122.6H273.45V124.2ZM274.20,124.2V123.2H274.95V124.2ZM275.70,124.2V122.6H276.45V124.2ZM278.70,124.2V123.3H279.45V123.4H280.20V123.5H280.95V123.1H281.70V123.4H282.45V124.2ZM283.95,124.2V122.6H284.70V123.4H285.45V124.2ZM286.20,124.2V123.0H286.95V124.2ZM288.45,124.2V123.2H289.20V123.1H289.95V124.2ZM290.70,124.2V123.0H291.45V123.5H292.20V124.2ZM292.95,124.2V123.2H293.70V124.2ZM294.45,124.2V123.0H295.20V123.1H295.95V124.2ZM298.20,124.2V123.2H298.95V122.9H299.70V124.2ZM301.95,124.2V123.1H302.70V124.2ZM304.20,124.2V123.1H304.95V124.2ZM307.20,124.2V122.9H307.95V123.0H308.70V123.0H309.45V124.2ZM310.95,124.2V123.2H311.70V124.2ZM312.45,124.2V122.9H313.20V122.9H313.95V122.8H314.70V123.3H315.45V122.9H316.20V123.0H316.95V123.1H317.70V123.4H318.45V124.2ZM319.20,124.2V122.6H319.95V122.9H320.70V122.9H321.45V124.2ZM322.20,124.2V123.3H322.95V123.2H323.70V123.1H324.45V123.4H325.20V123.1H325.95V122.6H326.70V123.3H327.45V124.2ZM328.20,124.2V123.2H328.95V124.2ZM330.45,124.2V123.3H331.20V123.5H331.95V124.2ZM333.45,124.2V123.1H334.20V124.2ZM334.95,124.2V123.3H335.70V122.2H336.45V121.7H337.20V122.9H337.95V123.2H338.70V124.2ZM339.45,124.2V123.1H340.20V123.0H340.95V124.2ZM341.70,124.2V123.2H342.45V124.2ZM343.95,124.2V122.9H344.70V123.0H345.45V123.1H346.20V124.2ZM346.95,124.2V123.2H347.70V123.1H348.45V122.8H349.20V124.2ZM350.70,124.2V122.6H351.45V124.2ZM352.95,124.2V123.2H353.70V123.5H354.45V123.3H355.20V123.4H355.95V123.0H356.70V122.2H357.45V121.2H358.20V121.8H358.95V122.3H359.70V124.2ZM360.45,124.2V123.4H361.20V123.5H361.95V123.5H362.70V123.1H363.45V124.2ZM367.20,124.2V123.2H367.95V124.2ZM368.70,124.2V123.4H369.45V124.2ZM370.20,124.2V123.3H370.95V123.0H371.70V123.1H372.45V124.2ZM373.95,124.2V123.0H374.70V122.9H375.45V124.2Z" fill="#e8111c"/>
<rect x="378.9" y="51.4" width="134.6" height="89.8" rx="1.6" fill="#f8f8f8" stroke="#858585" stroke-width="1.2"/>
<line x1="379.5" y1="63.7" x2="512.9" y2="63.7" stroke="#fdfdfd" stroke-width="0.9"/>
<line x1="379.5" y1="76.3" x2="512.9" y2="76.3" stroke="#fdfdfd" stroke-width="0.9"/>
<line x1="379.5" y1="88.0" x2="512.9" y2="88.0" stroke="#fdfdfd" stroke-width="0.9"/>
<line x1="379.5" y1="100.9" x2="512.9" y2="100.9" stroke="#fdfdfd" stroke-width="0.9"/>
<line x1="379.5" y1="113.1" x2="512.9" y2="113.1" stroke="#fdfdfd" stroke-width="0.9"/>
<line x1="379.5" y1="125.3" x2="512.9" y2="125.3" stroke="#fdfdfd" stroke-width="0.9"/>
<rect x="379.5" y="127.3" width="133.4" height="2.4" fill="#bebebe"/>
<rect x="379.5" y="129.7" width="133.4" height="1.4" fill="#fcfcfc"/>
<path d="M380.65,62.6V61.9H381.40V62.6ZM382.90,62.6V61.8H383.65V62.6ZM385.90,62.6V61.0H386.65V61.5H387.40V62.6ZM388.15,62.6V61.9H388.90V61.9H389.65V61.7H390.40V62.6ZM392.65,62.6V61.9H393.40V62.6ZM394.15,62.6V61.8H394.90V62.6ZM395.65,62.6V61.0H396.40V62.6ZM397.15,62.6V61.4H397.90V62.6ZM399.40,62.6V61.9H400.15V62.6ZM402.40,62.6V61.8H403.15V62.6ZM404.65,62.6V61.9H405.40V62.6ZM406.15,62.6V61.9H406.90V62.6ZM407.65,62.6V61.9H408.40V61.0H409.15V61.9H409.90V61.0H410.65V61.9H411.40V62.6ZM415.15,62.6V61.5H415.90V61.5H416.65V61.7H417.40V61.7H418.15V62.6ZM418.90,62.6V61.9H419.65V61.5H420.40V61.9H421.15V62.6ZM422.65,62.6V61.2H423.40V61.1H424.15V61.1H424.90V61.1H425.65V61.3H426.40V61.4H427.15V61.7H427.90V61.1H428.65V61.6H429.40V61.8H430.15V61.6H430.90V61.8H431.65V61.6H432.40V61.2H433.15V61.0H433.90V61.8H434.65V60.9H435.40V61.0H436.15V60.8H436.90V60.8H437.65V61.6H438.40V61.5H439.15V60.6H439.90V60.6H440.65V61.4H441.40V60.8H442.15V60.7H442.90V60.9H443.65V61.2H444.40V61.4H445.15V60.3H445.90V60.9H446.65V60.0H447.40V60.5H448.15V59.8H448.90V60.1H449.65V61.1H450.40V61.0H451.15V61.1H451.90V61.2H452.65V60.3H453.40V60.4H454.15V59.2H454.90V60.4H455.65V60.7H456.40V59.1H457.15V59.1H457.90V60.3H458.65V60.9H459.40V59.3H460.15V59.4H460.90V60.5H461.65V59.8H462.40V57.9H463.15V59.9H463.90V58.3H464.65V57.5H465.40V58.4H466.15V57.0H466.90V57.0H467.65V57.0H468.40V59.3H469.15V58.9H469.90V56.9H470.65V58.3H471.40V54.3H472.15V55.1H472.90V53.6H473.65V58.7H474.40V61.5H475.15V62.6ZM478.15,62.6V61.9H478.90V62.6ZM480.40,62.6V61.9H481.15V61.6H481.90V61.7H482.65V61.8H483.40V61.7H484.15V62.6ZM484.90,62.6V61.6H485.65V61.8H486.40V61.9H487.15V61.7H487.90V61.6H488.65V61.8H489.40V62.6ZM491.65,62.6V61.7H492.40V61.9H493.15V62.6ZM493.90,62.6V61.7H494.65V62.6ZM496.15,62.6V61.0H496.90V62.6ZM497.65,62.6V61.9H498.40V62.6ZM499.15,62.6V61.0H499.90V61.9H500.65V61.8H501.40V61.9H502.15V61.7H502.90V61.8H503.65V62.6ZM504.40,62.6V61.7H505.15V61.9H505.90V61.9H506.65V61.9H507.40V61.8H508.15V61.7H508.90V62.6ZM509.65,62.6V61.0H510.40V62.6ZM511.15,62.6V61.9H511.90V62.6Z" fill="#111111"/>
<path d="M379.90,75.2V74.5H380.65V75.2ZM381.40,75.2V74.4H382.15V75.2ZM382.90,75.2V73.6H383.65V74.4H384.40V75.2ZM385.90,75.2V74.5H386.65V75.2ZM387.40,75.2V74.5H388.15V74.3H388.90V75.2ZM390.40,75.2V74.4H391.15V75.2ZM392.65,75.2V74.2H393.40V72.7H394.15V73.6H394.90V74.0H395.65V73.6H396.40V74.3H397.15V74.5H397.90V74.1H398.65V74.1H399.40V74.5H400.15V75.2ZM400.90,75.2V74.5H401.65V75.2ZM402.40,75.2V74.5H403.15V75.2ZM403.90,75.2V74.3H404.65V74.0H405.40V74.3H406.15V75.2ZM406.90,75.2V74.5H407.65V74.3H408.40V74.4H409.15V74.3H409.90V75.2ZM411.40,75.2V74.3H412.15V75.2ZM412.90,75.2V74.0H413.65V75.2ZM421.15,75.2V74.5H421.90V75.2ZM424.15,75.2V74.5H424.90V73.6H425.65V74.3H426.40V74.3H427.15V74.2H427.90V74.2H428.65V74.5H429.40V75.2ZM433.15,75.2V73.6H433.90V74.0H434.65V74.5H435.40V74.1H436.15V75.2ZM438.40,75.2V74.4H439.15V75.2ZM439.90,75.2V74.1H440.65V75.2ZM441.40,75.2V74.5H442.15V75.2ZM443.65,75.2V74.1H444.40V75.2ZM445.15,75.2V74.5H445.90V73.9H446.65V75.2ZM448.15,75.2V73.7H448.90V73.7H449.65V73.5H450.40V74.1H451.15V73.7H451.90V73.5H452.65V73.7H453.40V73.5H454.15V73.6H454.90V74.0H455.65V73.8H456.40V73.3H457.15V73.3H457.90V73.2H458.65V73.7H459.40V73.6H460.15V73.5H460.90V73.9H461.65V73.5H462.40V74.2H463.15V74.0H463.90V74.0H464.65V74.0H465.40V74.0H466.15V73.9H466.90V74.3H467.65V73.5H468.40V74.3H469.15V73.8H469.90V73.7H470.65V72.8H471.40V71.4H472.15V72.4H472.90V70.7H473.65V73.5H474.40V74.5H475.15V75.2ZM475.90,75.2V74.4H476.65V74.5H477.40V75.2ZM478.90,75.2V74.3H479.65V74.1H480.40V74.0H481.15V74.1H481.90V74.0H482.65V73.6H483.40V74.1H484.15V74.0H484.90V74.2H485.65V75.2ZM486.40,75.2V74.4H487.15V74.1H487.90V74.0H488.65V75.2ZM489.40,75.2V74.5H490.15V74.2H490.90V74.5H491.65V75.2ZM492.40,75.2V74.2H493.15V74.2H493.90V75.2ZM494.65,75.2V74.2H495.40V74.1H496.15V74.2H496.90V75.2ZM499.15,75.2V74.5H499.90V75.2ZM500.65,75.2V74.2H501.40V74.3H502.15V74.2H502.90V74.1H503.65V74.1H504.40V74.5H505.15V74.2H505.90V74.2H506.65V74.3H507.40V74.3H508.15V75.2Z" fill="#e8111c"/>
<path d="M379.90,86.9V85.4H380.65V85.7H381.40V85.7H382.15V85.5H382.90V86.0H383.65V86.1H384.40V85.8H385.15V86.1H385.90V86.0H386.65V85.8H387.40V85.5H388.15V85.3H388.90V85.3H389.65V85.6H390.40V85.4H391.15V85.6H391.90V85.5H392.65V85.3H393.40V85.8H394.15V85.9H394.90V85.4H395.65V85.4H396.40V86.1H397.15V85.9H397.90V85.2H398.65V85.2H399.40V85.2H400.15V85.5H400.90V85.3H401.65V86.0H402.40V85.4H403.15V85.3H403.90V85.2H404.65V85.9H405.40V85.1H406.15V86.0H406.90V85.5H407.65V85.8H408.40V85.6H409.15V85.0H409.90V85.3H410.65V85.3H411.40V85.2H412.15V85.0H412.90V85.0H413.65V85.2H414.40V85.9H415.15V85.5H415.90V85.2H416.65V85.4H417.40V85.5H418.15V85.3H418.90V85.8H419.65V84.9H420.40V85.1H421.15V84.8H421.90V85.2H422.65V85.8H423.40V85.2H424.15V85.4H424.90V84.7H425.65V85.3H426.40V85.1H427.15V85.5H427.90V85.5H428.65V84.7H429.40V84.6H430.15V84.3H430.90V84.8H431.65V84.1H432.40V84.4H433.15V85.0H433.90V84.4H434.65V84.3H435.40V84.8H436.15V84.2H436.90V84.2H437.65V84.5H438.40V83.2H439.15V84.6H439.90V83.6H440.65V83.3H441.40V83.5H442.15V83.9H442.90V84.2H443.65V84.4H444.40V82.7H445.15V84.3H445.90V84.0H446.65V82.0H447.40V84.5H448.15V84.4H448.90V83.3H449.65V81.8H450.40V82.7H451.15V82.8H451.90V83.0H452.65V81.4H453.40V82.7H454.15V81.6H454.90V81.4H455.65V79.7H456.40V79.9H457.15V81.6H457.90V83.2H458.65V82.1H459.40V81.2H460.15V81.9H460.90V78.5H461.65V77.7H462.40V78.4H463.15V81.7H463.90V79.7H464.65V78.9H465.40V79.3H466.15V78.4H466.90V81.8H467.65V83.0H468.40V82.6H469.15V81.4H469.90V82.9H470.65V82.1H471.40V80.5H472.15V80.4H472.90V82.4H473.65V82.3H474.40V83.7H475.15V85.0H475.90V84.5H476.65V85.4H477.40V85.1H478.15V85.4H478.90V85.8H479.65V84.9H480.40V85.4H481.15V84.9H481.90V85.0H482.65V85.7H483.40V85.0H484.15V85.0H484.90V85.3H485.65V85.1H486.40V85.6H487.15V85.2H487.90V85.3H488.65V85.3H489.40V85.9H490.15V85.8H490.90V85.8H491.65V85.6H492.40V85.8H493.15V86.0H493.90V85.7H494.65V85.3H495.40V85.8H496.15V86.1H496.90V86.0H497.65V86.9ZM498.40,86.9V85.5H499.15V85.3H499.90V86.0H500.65V85.9H501.40V85.6H502.15V86.9ZM503.65,86.9V85.9H504.40V85.6H505.15V86.9ZM505.90,86.9V86.0H506.65V86.9ZM507.40,86.9V85.9H508.15V86.9ZM508.90,86.9V85.7H509.65V86.9ZM511.15,86.9V85.7H511.90V86.0H512.65V86.9Z" fill="#111111"/>
<path d="M379.90,99.8V98.8H380.65V98.5H381.40V98.4H382.15V98.2H382.90V97.9H383.65V98.8H384.40V97.9H385.15V98.7H385.90V97.7H386.65V98.3H387.40V98.1H388.15V97.9H388.90V97.6H389.65V97.9H390.40V98.5H391.15V97.9H391.90V98.8H392.65V98.3H393.40V97.9H394.15V98.0H394.90V98.8H395.65V98.2H396.40V98.5H397.15V98.4H397.90V97.8H398.65V98.5H399.40V97.8H400.15V97.8H400.90V98.2H401.65V97.8H402.40V98.5H403.15V97.8H403.90V98.5H404.65V98.0H405.40V97.9H406.15V98.2H406.90V97.8H407.65V98.1H408.40V97.9H409.15V98.4H409.90V98.8H410.65V98.8H411.40V97.9H412.15V98.6H412.90V97.9H413.65V98.9H414.40V97.9H415.15V98.2H415.90V98.8H416.65V98.4H417.40V98.0H418.15V98.0H418.90V98.0H419.65V98.7H420.40V98.1H421.15V98.7H421.90V98.3H422.65V98.8H423.40V98.3H424.15V98.4H424.90V98.0H425.65V98.5H426.40V98.5H427.15V98.1H427.90V98.5H428.65V98.1H429.40V98.8H430.15V98.9H430.90V98.5H431.65V98.5H432.40V98.3H433.15V98.0H433.90V98.5H434.65V98.9H435.40V98.3H436.15V98.3H436.90V98.4H437.65V98.4H438.40V98.5H439.15V98.7H439.90V98.5H440.65V98.6H441.40V98.7H442.15V97.8H442.90V98.5H443.65V98.4H444.40V98.7H445.15V98.6H445.90V98.6H446.65V97.6H447.40V98.1H448.15V97.7H448.90V97.9H449.65V98.1H450.40V98.5H451.15V97.9H451.90V97.9H452.65V98.0H453.40V97.1H454.15V98.4H454.90V97.1H455.65V98.1H456.40V97.5H457.15V97.3H457.90V97.4H458.65V97.3H459.40V97.9H460.15V97.2H460.90V97.7H461.65V97.0H462.40V95.8H463.15V97.7H463.90V97.5H464.65V97.6H465.40V96.9H466.15V97.2H466.90V97.3H467.65V96.1H468.40V95.9H469.15V96.4H469.90V96.3H470.65V97.8H471.40V96.0H472.15V96.3H472.90V98.0H473.65V96.2H474.40V97.7H475.15V97.2H475.90V98.0H476.65V98.2H477.40V98.6H478.15V98.8H478.90V97.9H479.65V98.3H480.40V98.3H481.15V98.4H481.90V98.1H482.65V98.2H483.40V98.2H484.15V98.3H484.90V98.5H485.65V98.3H486.40V98.4H487.15V98.6H487.90V98.9H488.65V98.0H489.40V97.9H490.15V98.0H490.90V97.9H491.65V98.5H492.40V97.9H493.15V98.5H493.90V98.4H494.65V98.8H495.40V98.5H496.15V98.7H496.90V98.7H497.65V98.1H498.40V98.3H499.15V98.3H499.90V98.6H500.65V98.8H501.40V98.4H502.15V98.7H502.90V98.1H503.65V98.9H504.40V98.8H505.15V98.7H505.90V98.3H506.65V98.9H507.40V98.7H508.15V98.3H508.90V98.6H509.65V98.7H510.40V98.2H511.15V98.2H511.90V98.6H512.65V99.8Z" fill="#e8111c"/>
<path d="M379.90,112.0V111.1H380.65V112.0ZM381.40,112.0V111.2H382.15V112.0ZM382.90,112.0V111.0H383.65V111.2H384.40V111.2H385.15V111.2H385.90V112.0ZM389.65,112.0V111.2H390.40V112.0ZM391.15,112.0V111.0H391.90V112.0ZM392.65,112.0V111.2H393.40V111.1H394.15V111.2H394.90V111.2H395.65V111.2H396.40V112.0ZM398.65,112.0V111.2H399.40V112.0ZM401.65,112.0V111.2H402.40V111.2H403.15V111.2H403.90V111.2H404.65V112.0ZM405.40,112.0V111.2H406.15V112.0ZM406.90,112.0V111.1H407.65V111.1H408.40V112.0ZM409.15,112.0V111.2H409.90V111.2H410.65V112.0ZM411.40,112.0V111.2H412.15V110.4H412.90V112.0ZM413.65,112.0V111.2H414.40V111.2H415.15V112.0ZM415.90,112.0V111.2H416.65V111.2H417.40V111.0H418.15V112.0ZM421.15,112.0V111.1H421.90V111.2H422.65V111.2H423.40V111.2H424.15V111.2H424.90V111.2H425.65V112.0ZM426.40,112.0V111.1H427.15V111.2H427.90V112.0ZM430.90,112.0V111.1H431.65V111.1H432.40V111.2H433.15V111.2H433.90V112.0ZM434.65,112.0V111.2H435.40V111.2H436.15V111.2H436.90V112.0ZM437.65,112.0V111.2H438.40V112.0ZM439.90,112.0V111.2H440.65V112.0ZM441.40,112.0V111.2H442.15V112.0ZM443.65,112.0V111.0H444.40V110.9H445.15V110.5H445.90V106.5H446.65V109.5H447.40V110.6H448.15V112.0ZM449.65,112.0V111.2H450.40V112.0ZM452.65,112.0V111.2H453.40V112.0ZM454.15,112.0V111.2H454.90V111.2H455.65V112.0ZM457.15,112.0V110.4H457.90V112.0ZM458.65,112.0V111.2H459.40V109.9H460.15V107.3H460.90V103.0H461.65V109.1H462.40V109.4H463.15V110.2H463.90V110.8H464.65V110.0H465.40V110.9H466.15V110.7H466.90V111.2H467.65V110.8H468.40V112.0ZM469.90,112.0V110.0H470.65V107.5H471.40V108.8H472.15V111.2H472.90V112.0ZM473.65,112.0V111.2H474.40V111.0H475.15V112.0ZM475.90,112.0V110.9H476.65V111.2H477.40V111.0H478.15V112.0ZM481.90,112.0V111.1H482.65V111.2H483.40V111.0H484.15V112.0ZM487.15,112.0V111.2H487.90V111.1H488.65V111.2H489.40V112.0ZM490.90,112.0V111.0H491.65V112.0ZM492.40,112.0V111.2H493.15V111.2H493.90V112.0ZM495.40,112.0V111.2H496.15V111.2H496.90V111.2H497.65V111.2H498.40V111.2H499.15V112.0ZM500.65,112.0V110.4H501.40V111.2H502.15V111.2H502.90V111.1H503.65V112.0ZM505.90,112.0V111.1H506.65V111.2H507.40V111.2H508.15V112.0ZM508.90,112.0V111.2H509.65V111.1H510.40V111.2H511.15V112.0Z" fill="#111111"/>
<path d="M379.90,124.2V123.5H380.65V124.2ZM381.40,124.2V123.1H382.15V124.2ZM382.90,124.2V123.4H383.65V124.2ZM384.40,124.2V123.3H385.15V123.5H385.90V123.5H386.65V123.1H387.40V123.5H388.15V124.2ZM388.90,124.2V123.3H389.65V124.2ZM390.40,124.2V123.5H391.15V124.2ZM391.90,124.2V123.3H392.65V124.2ZM393.40,124.2V123.3H394.15V123.5H394.90V123.0H395.65V123.0H396.40V124.2ZM397.15,124.2V123.0H397.90V124.2ZM398.65,124.2V123.3H399.40V123.2H400.15V124.2ZM401.65,124.2V123.4H402.40V122.6H403.15V124.2ZM405.40,124.2V122.6H406.15V124.2ZM406.90,124.2V123.0H407.65V123.3H408.40V123.3H409.15V123.4H409.90V123.4H410.65V124.2ZM411.40,124.2V123.1H412.15V124.2ZM413.65,124.2V123.2H414.40V123.0H415.15V122.6H415.90V123.3H416.65V123.0H417.40V124.2ZM418.15,124.2V123.0H418.90V124.2ZM420.40,124.2V123.1H421.15V123.1H421.90V123.5H422.65V123.1H423.40V124.2ZM424.15,124.2V123.5H424.90V124.2ZM426.40,124.2V123.4H427.15V124.2ZM432.40,124.2V123.1H433.15V124.2ZM433.90,124.2V123.2H434.65V123.2H435.40V123.1H436.15V122.9H436.90V123.5H437.65V123.3H438.40V123.1H439.15V124.2ZM439.90,124.2V123.0H440.65V123.1H441.40V122.6H442.15V123.4H442.90V124.2ZM444.40,124.2V123.4H445.15V123.0H445.90V122.9H446.65V122.5H447.40V122.9H448.15V122.9H448.90V123.0H449.65V124.2ZM450.40,124.2V123.2H451.15V123.2H451.90V123.4H452.65V124.2ZM453.40,124.2V123.3H454.15V123.5H454.90V122.8H455.65V124.2ZM456.40,124.2V123.2H457.15V124.2ZM457.90,124.2V122.7H458.65V123.1H459.40V121.8H460.15V122.6H460.90V120.7H461.65V122.5H462.40V122.5H463.15V122.8H463.90V122.8H464.65V123.1H465.40V124.2ZM466.15,124.2V123.1H466.90V124.2ZM469.15,124.2V123.0H469.90V121.8H470.65V121.2H471.40V122.6H472.15V123.3H472.90V123.2H473.65V124.2ZM474.40,124.2V123.0H475.15V123.3H475.90V124.2ZM476.65,124.2V123.5H477.40V123.5H478.15V122.9H478.90V123.5H479.65V124.2ZM480.40,124.2V123.5H481.15V122.6H481.90V124.2ZM482.65,124.2V123.3H483.40V123.0H484.15V124.2ZM484.90,124.2V123.1H485.65V124.2ZM487.15,124.2V123.4H487.90V123.1H488.65V124.2ZM490.15,124.2V123.5H490.90V123.5H491.65V123.1H492.40V124.2ZM493.15,124.2V123.5H493.90V123.1H494.65V123.2H495.40V123.4H496.15V123.5H496.90V124.2ZM497.65,124.2V123.3H498.40V123.3H499.15V123.5H499.90V123.2H500.65V123.5H501.40V123.0H502.15V123.1H502.90V124.2ZM504.40,124.2V123.3H505.15V124.2ZM505.90,124.2V123.2H506.65V124.2ZM507.40,124.2V123.5H508.15V124.2ZM508.90,124.2V123.2H509.65V123.3H510.40V124.2ZM511.15,124.2V123.1H511.90V123.1H512.65V124.2Z" fill="#e8111c"/>
<rect x="241.6" y="185.9" width="134.4" height="89.6" rx="1.6" fill="#f8f8f8" stroke="#858585" stroke-width="1.2"/>
<line x1="242.2" y1="198.4" x2="375.4" y2="198.4" stroke="#fdfdfd" stroke-width="0.9"/>
<line x1="242.2" y1="211.0" x2="375.4" y2="211.0" stroke="#fdfdfd" stroke-width="0.9"/>
<line x1="242.2" y1="223.0" x2="375.4" y2="223.0" stroke="#fdfdfd" stroke-width="0.9"/>
<line x1="242.2" y1="235.5" x2="375.4" y2="235.5" stroke="#fdfdfd" stroke-width="0.9"/>
<line x1="242.2" y1="247.5" x2="375.4" y2="247.5" stroke="#fdfdfd" stroke-width="0.9"/>
<line x1="242.2" y1="259.9" x2="375.4" y2="259.9" stroke="#fdfdfd" stroke-width="0.9"/>
<rect x="242.2" y="261.7" width="133.2" height="2.8" fill="#bebebe"/>
<rect x="242.2" y="264.5" width="133.2" height="1.4" fill="#fcfcfc"/>
<path d="M243.35,197.3V196.3H244.10V196.3H244.85V197.3ZM245.60,197.3V196.6H246.35V197.3ZM247.10,197.3V196.5H247.85V196.6H248.60V197.3ZM249.35,197.3V196.2H250.10V197.3ZM252.35,197.3V196.5H253.10V196.3H253.85V196.4H254.60V196.2H255.35V196.6H256.10V196.1H256.85V195.7H257.60V195.8H258.35V195.9H259.10V196.5H259.85V196.5H260.60V196.1H261.35V197.3ZM262.10,197.3V196.1H262.85V197.3ZM263.60,197.3V196.6H264.35V196.2H265.10V197.3ZM265.85,197.3V196.0H266.60V195.7H267.35V196.6H268.10V196.1H268.85V195.9H269.60V195.7H270.35V197.3ZM271.10,197.3V195.7H271.85V195.9H272.60V195.5H273.35V196.1H274.10V195.8H274.85V195.5H275.60V195.9H276.35V194.7H277.10V194.4H277.85V194.0H278.60V193.5H279.35V191.9H280.10V193.2H280.85V187.9H281.60V189.9H282.35V193.2H283.10V192.9H283.85V193.0H284.60V192.1H285.35V194.8H286.10V193.8H286.85V195.3H287.60V195.4H288.35V195.2H289.10V193.5H289.85V193.6H290.60V193.7H291.35V193.6H292.10V193.1H292.85V192.7H293.60V194.9H294.35V193.7H295.10V194.5H295.85V195.9H296.60V195.7H297.35V195.7H298.10V194.5H298.85V195.3H299.60V194.5H300.35V195.2H301.10V194.2H301.85V194.5H302.60V193.8H303.35V194.6H304.10V195.4H304.85V195.2H305.60V196.1H306.35V195.1H307.10V195.3H307.85V196.1H308.60V195.3H309.35V195.8H310.10V195.4H310.85V195.3H311.60V196.1H312.35V195.1H313.10V195.9H313.85V195.6H314.60V196.0H315.35V195.6H316.10V196.0H316.85V195.3H317.60V195.9H318.35V194.8H319.10V195.9H319.85V195.5H320.60V195.5H321.35V195.1H322.10V195.0H322.85V195.6H323.60V194.2H324.35V194.5H325.10V194.2H325.85V194.5H326.60V194.8H327.35V195.6H328.10V195.2H328.85V195.2H329.60V194.8H330.35V194.8H331.10V195.5H331.85V196.0H332.60V195.5H333.35V195.0H334.10V195.8H334.85V196.1H335.60V194.8H336.35V195.7H337.10V196.0H337.85V195.7H338.60V195.0H339.35V196.1H340.10V195.1H340.85V195.6H341.60V195.7H342.35V195.4H343.10V196.1H343.85V195.0H344.60V195.7H345.35V196.1H346.10V196.6H346.85V196.6H347.60V195.8H348.35V196.2H349.10V196.1H349.85V195.5H350.60V196.0H351.35V196.5H352.10V196.0H352.85V196.6H353.60V197.3ZM354.35,197.3V196.5H355.10V197.3ZM356.60,197.3V196.5H357.35V196.0H358.10V196.6H358.85V196.6H359.60V197.3ZM361.10,197.3V196.3H361.85V197.3ZM363.35,197.3V196.5H364.10V196.5H364.85V196.4H365.60V196.5H366.35V196.1H367.10V197.3ZM368.60,197.3V195.7H369.35V197.3ZM370.10,197.3V196.2H370.85V196.1H371.60V196.6H372.35V197.3Z" fill="#111111"/>
<path d="M243.35,209.9V209.2H244.10V209.9ZM244.85,209.9V209.1H245.60V209.1H246.35V209.0H247.10V208.7H247.85V208.8H248.60V209.9ZM249.35,209.9V208.7H250.10V209.9ZM250.85,209.9V209.2H251.60V209.9ZM252.35,209.9V208.8H253.10V209.2H253.85V208.6H254.60V209.9ZM257.60,209.9V208.7H258.35V208.6H259.10V209.2H259.85V209.9ZM260.60,209.9V208.5H261.35V208.7H262.10V208.6H262.85V208.7H263.60V209.9ZM264.35,209.9V209.2H265.10V209.0H265.85V208.3H266.60V209.9ZM267.35,209.9V208.7H268.10V208.8H268.85V209.9ZM269.60,209.9V209.2H270.35V208.7H271.10V208.8H271.85V209.9ZM272.60,209.9V208.3H273.35V209.9ZM274.85,209.9V208.8H275.60V208.6H276.35V208.4H277.10V207.6H277.85V207.6H278.60V207.2H279.35V206.3H280.10V205.0H280.85V203.2H281.60V203.8H282.35V206.9H283.10V207.6H283.85V207.1H284.60V208.4H285.35V208.4H286.10V207.8H286.85V207.9H287.60V207.8H288.35V208.4H289.10V208.4H289.85V207.1H290.60V208.0H291.35V207.1H292.10V207.4H292.85V207.1H293.60V208.3H294.35V208.0H295.10V208.2H295.85V208.2H296.60V208.3H297.35V206.9H298.10V207.3H298.85V208.4H299.60V207.3H300.35V208.5H301.10V207.2H301.85V207.7H302.60V207.7H303.35V208.5H304.10V208.5H304.85V208.8H305.60V208.6H306.35V209.9ZM307.85,209.9V209.2H308.60V209.9ZM309.35,209.9V208.5H310.10V209.9ZM311.60,209.9V209.1H312.35V209.9ZM314.60,209.9V208.3H315.35V209.9ZM316.10,209.9V208.9H316.85V208.7H317.60V209.0H318.35V208.7H319.10V209.9ZM319.85,209.9V209.1H320.60V208.4H321.35V209.0H322.10V208.7H322.85V208.4H323.60V209.1H324.35V208.8H325.10V208.2H325.85V208.3H326.60V208.8H327.35V208.5H328.10V208.3H328.85V208.7H329.60V208.4H330.35V208.6H331.10V208.3H331.85V208.8H332.60V208.5H333.35V208.2H334.10V209.0H334.85V208.3H335.60V208.5H336.35V208.3H337.10V209.1H337.85V208.5H338.60V209.0H339.35V208.8H340.10V209.9ZM340.85,209.9V209.1H341.60V208.8H342.35V209.9ZM343.10,209.9V208.4H343.85V208.7H344.60V208.7H345.35V208.6H346.10V208.7H346.85V208.8H347.60V208.6H348.35V208.3H349.10V209.9ZM349.85,209.9V209.1H350.60V209.9ZM352.85,209.9V209.1H353.60V209.9ZM354.35,209.9V208.5H355.10V209.0H355.85V208.4H356.60V209.9ZM358.10,209.9V208.6H358.85V208.9H359.60V208.5H360.35V208.8H361.10V209.9ZM362.60,209.9V209.2H363.35V209.9ZM365.60,209.9V209.1H366.35V208.9H367.10V209.9ZM367.85,209.9V208.8H368.60V208.7H369.35V208.9H370.10V209.0H370.85V208.9H371.60V209.9ZM373.10,209.9V209.2H373.85V208.7H374.60V209.9Z" fill="#e8111c"/>
<path d="M243.35,221.9V220.7H244.10V220.8H244.85V221.0H245.60V220.8H246.35V220.1H247.10V220.6H247.85V219.6H248.60V220.8H249.35V220.7H250.10V219.8H250.85V220.3H251.60V219.6H252.35V219.8H253.10V220.8H253.85V220.3H254.60V220.6H255.35V220.2H256.10V220.8H256.85V220.9H257.60V220.3H258.35V220.5H259.10V220.4H259.85V220.7H260.60V220.9H261.35V220.6H262.10V220.4H262.85V220.6H263.60V220.6H264.35V220.2H265.10V219.9H265.85V220.5H266.60V219.8H267.35V219.8H268.10V219.9H268.85V219.8H269.60V220.0H270.35V220.2H271.10V219.7H271.85V219.9H272.60V219.8H273.35V220.4H274.10V220.3H274.85V219.5H275.60V219.5H276.35V220.2H277.10V218.8H277.85V218.5H278.60V217.5H279.35V217.1H280.10V216.1H280.85V217.2H281.60V215.4H282.35V214.0H283.10V213.7H283.85V212.5H284.60V214.7H285.35V216.2H286.10V219.0H286.85V217.2H287.60V218.5H288.35V216.7H289.10V218.4H289.85V215.9H290.60V216.0H291.35V216.2H292.10V216.6H292.85V217.8H293.60V218.6H294.35V217.3H295.10V219.1H295.85V219.2H296.60V216.9H297.35V218.6H298.10V216.1H298.85V216.4H299.60V216.6H300.35V218.0H301.10V219.2H301.85V218.5H302.60V219.6H303.35V220.1H304.10V219.6H304.85V219.6H305.60V220.2H306.35V220.1H307.10V219.2H307.85V219.7H308.60V219.1H309.35V219.0H310.10V219.5H310.85V219.9H311.60V220.1H312.35V219.7H313.10V220.1H313.85V219.2H314.60V220.5H315.35V219.7H316.10V219.8H316.85V219.8H317.60V219.5H318.35V220.3H319.10V219.7H319.85V219.7H320.60V220.1H321.35V220.8H322.10V220.1H322.85V220.3H323.60V219.7H324.35V220.1H325.10V220.2H325.85V219.8H326.60V220.5H327.35V220.7H328.10V220.8H328.85V219.8H329.60V220.0H330.35V220.5H331.10V220.1H331.85V220.6H332.60V219.8H333.35V219.7H334.10V220.7H334.85V220.1H335.60V220.8H336.35V219.8H337.10V220.6H337.85V220.4H338.60V219.8H339.35V220.5H340.10V220.4H340.85V220.0H341.60V219.8H342.35V220.0H343.10V220.7H343.85V220.6H344.60V220.3H345.35V219.9H346.10V220.3H346.85V220.8H347.60V220.2H348.35V220.9H349.10V220.2H349.85V220.3H350.60V220.1H351.35V220.9H352.10V220.3H352.85V220.0H353.60V221.0H354.35V220.3H355.10V220.6H355.85V220.2H356.60V220.4H357.35V220.9H358.10V220.0H358.85V220.9H359.60V220.6H360.35V220.8H361.10V220.0H361.85V220.2H362.60V220.2H363.35V220.3H364.10V220.9H364.85V220.6H365.60V220.7H366.35V220.9H367.10V220.2H367.85V220.6H368.60V220.6H369.35V220.6H370.10V220.3H370.85V220.6H371.60V221.0H372.35V220.6H373.10V220.4H373.85V220.6H374.60V220.6H375.35V221.9Z" fill="#111111"/>
<path d="M242.60,234.4V233.3H243.35V233.3H244.10V233.6H244.85V233.0H245.60V232.9H246.35V232.9H247.10V233.6H247.85V233.6H248.60V233.2H249.35V232.9H250.10V233.2H250.85V233.1H251.60V233.5H252.35V233.6H253.10V233.4H253.85V233.3H254.60V233.1H255.35V232.8H256.10V233.5H256.85V233.0H257.60V232.9H258.35V232.8H259.10V233.5H259.85V233.2H260.60V232.9H261.35V233.1H262.10V233.1H262.85V233.3H263.60V233.0H264.35V233.3H265.10V233.6H265.85V233.6H266.60V232.9H267.35V233.0H268.10V233.2H268.85V232.9H269.60V233.3H270.35V232.7H271.10V233.4H271.85V233.0H272.60V233.2H273.35V233.1H274.10V233.1H274.85V232.5H275.60V232.6H276.35V231.7H277.10V231.7H277.85V231.7H278.60V231.5H279.35V230.9H280.10V230.3H280.85V229.9H281.60V231.3H282.35V231.2H283.10V231.4H283.85V231.4H284.60V231.4H285.35V231.6H286.10V232.8H286.85V232.9H287.60V233.0H288.35V232.9H289.10V232.3H289.85V233.1H290.60V232.4H291.35V232.3H292.10V232.4H292.85V232.3H293.60V232.6H294.35V232.4H295.10V233.1H295.85V232.6H296.60V232.8H297.35V232.9H298.10V232.1H298.85V232.2H299.60V233.1H300.35V232.1H301.10V233.2H301.85V232.6H302.60V233.0H303.35V232.9H304.10V233.2H304.85V233.0H305.60V232.5H306.35V232.6H307.10V232.3H307.85V232.8H308.60V233.2H309.35V232.7H310.10V232.4H310.85V233.4H311.60V232.8H312.35V232.5H313.10V233.2H313.85V233.0H314.60V233.4H315.35V233.2H316.10V232.7H316.85V233.1H317.60V233.3H318.35V233.2H319.10V233.5H319.85V232.9H320.60V233.0H321.35V232.9H322.10V233.4H322.85V233.2H323.60V233.2H324.35V232.9H325.10V233.6H325.85V233.6H326.60V232.7H327.35V233.3H328.10V232.7H328.85V232.9H329.60V233.0H330.35V233.6H331.10V233.0H331.85V233.2H332.60V233.3H333.35V233.1H334.10V233.0H334.85V233.6H335.60V233.2H336.35V233.0H337.10V233.5H337.85V233.0H338.60V233.0H339.35V233.0H340.10V233.5H340.85V233.6H341.60V233.0H342.35V233.5H343.10V232.8H343.85V233.2H344.60V233.0H345.35V233.6H346.10V233.2H346.85V233.0H347.60V232.9H348.35V233.6H349.10V233.2H349.85V233.6H350.60V233.6H351.35V233.1H352.10V232.9H352.85V232.9H353.60V233.0H354.35V233.3H355.10V233.4H355.85V233.1H356.60V233.2H357.35V233.4H358.10V232.9H358.85V234.4ZM360.35,234.4V233.2H361.10V233.1H361.85V234.4ZM362.60,234.4V233.2H363.35V232.8H364.10V234.4ZM366.35,234.4V232.8H367.10V233.1H367.85V234.4ZM370.85,234.4V232.9H371.60V233.2H372.35V234.4ZM373.10,234.4V233.2H373.85V233.3H374.60V233.0H375.35V234.4Z" fill="#e8111c"/>
<path d="M242.60,246.4V245.6H243.35V245.6H244.10V245.6H244.85V246.4ZM245.60,246.4V245.4H246.35V245.4H247.10V245.4H247.85V246.4ZM248.60,246.4V244.8H249.35V245.7H250.10V245.7H250.85V246.4ZM252.35,246.4V245.3H253.10V245.7H253.85V246.4ZM254.60,246.4V245.6H255.35V246.4ZM257.60,246.4V244.8H258.35V246.4ZM259.10,246.4V245.6H259.85V245.7H260.60V245.4H261.35V245.5H262.10V246.4ZM262.85,246.4V245.5H263.60V245.6H264.35V245.6H265.10V245.5H265.85V246.4ZM266.60,246.4V245.5H267.35V245.3H268.10V244.8H268.85V245.1H269.60V245.7H270.35V245.2H271.10V245.4H271.85V245.1H272.60V244.7H273.35V244.8H274.10V245.1H274.85V245.3H275.60V244.9H276.35V245.1H277.10V244.7H277.85V245.0H278.60V245.5H279.35V245.4H280.10V245.4H280.85V244.7H281.60V244.8H282.35V245.4H283.10V244.2H283.85V244.6H284.60V244.1H285.35V244.2H286.10V243.6H286.85V245.0H287.60V244.4H288.35V244.9H289.10V243.8H289.85V243.6H290.60V243.6H291.35V243.7H292.10V240.9H292.85V236.4H293.60V240.3H294.35V245.2H295.10V245.3H295.85V246.4ZM298.85,246.4V245.2H299.60V245.1H300.35V246.4ZM301.85,246.4V245.0H302.60V244.8H303.35V245.4H304.10V244.8H304.85V245.6H305.60V244.8H306.35V245.2H307.10V244.9H307.85V246.4ZM309.35,246.4V245.6H310.10V245.3H310.85V246.4ZM311.60,246.4V245.5H312.35V245.1H313.10V246.4ZM315.35,246.4V244.6H316.10V244.2H316.85V243.4H317.60V243.4H318.35V244.7H319.10V245.4H319.85V245.2H320.60V245.6H321.35V245.4H322.10V246.4ZM322.85,246.4V244.8H323.60V246.4ZM324.35,246.4V245.4H325.10V245.3H325.85V246.4ZM327.35,246.4V245.1H328.10V245.1H328.85V245.5H329.60V245.3H330.35V244.7H331.10V244.9H331.85V245.1H332.60V246.4ZM334.85,246.4V245.4H335.60V246.4ZM337.10,246.4V245.3H337.85V245.0H338.60V245.6H339.35V245.7H340.10V246.4ZM340.85,246.4V245.6H341.60V245.5H342.35V246.4ZM344.60,246.4V244.8H345.35V246.4ZM346.10,246.4V245.3H346.85V244.8H347.60V244.8H348.35V245.5H349.10V246.4ZM350.60,246.4V245.1H351.35V245.2H352.10V246.4ZM353.60,246.4V245.1H354.35V246.4ZM355.10,246.4V245.3H355.85V246.4ZM356.60,246.4V245.1H357.35V246.4ZM358.10,246.4V245.7H358.85V245.4H359.60V245.5H360.35V246.4ZM361.10,246.4V245.6H361.85V244.8H362.60V246.4ZM364.10,246.4V245.2H364.85V245.7H365.60V245.6H366.35V245.4H367.10V245.6H367.85V246.4ZM370.10,246.4V245.3H370.85V246.4ZM373.85,246.4V245.4H374.60V245.7H375.35V246.4Z" fill="#111111"/>
<path d="M242.60,258.8V257.8H243.35V257.9H244.10V257.9H244.85V258.8ZM245.60,258.8V258.0H246.35V257.8H247.10V257.7H247.85V258.8ZM250.10,258.8V258.1H250.85V258.0H251.60V258.0H252.35V257.2H253.10V257.6H253.85V258.0H254.60V257.8H255.35V258.1H256.10V258.1H256.85V257.9H257.60V258.8ZM262.85,258.8V258.1H263.60V258.1H264.35V257.8H265.10V257.6H265.85V257.8H266.60V258.8ZM268.10,258.8V257.6H268.85V257.7H269.60V257.9H270.35V258.0H271.10V258.1H271.85V257.7H272.60V258.1H273.35V258.8ZM274.10,258.8V258.0H274.85V258.8ZM275.60,258.8V258.1H276.35V257.8H277.10V258.8ZM278.60,258.8V257.9H279.35V257.7H280.10V257.6H280.85V258.8ZM283.10,258.8V258.1H283.85V257.2H284.60V258.8ZM286.10,258.8V258.1H286.85V258.8ZM288.35,258.8V257.8H289.10V257.9H289.85V258.8ZM290.60,258.8V257.5H291.35V257.6H292.10V257.7H292.85V256.6H293.60V257.8H294.35V258.8ZM295.10,258.8V258.1H295.85V258.1H296.60V258.1H297.35V257.5H298.10V258.8ZM298.85,258.8V258.0H299.60V258.1H300.35V257.9H301.10V258.8ZM301.85,258.8V258.1H302.60V257.6H303.35V257.8H304.10V257.7H304.85V258.0H305.60V258.0H306.35V258.0H307.10V257.9H307.85V258.8ZM310.10,258.8V258.1H310.85V258.8ZM312.35,258.8V257.7H313.10V258.8ZM313.85,258.8V257.5H314.60V258.8ZM316.10,258.8V257.8H316.85V257.7H317.60V258.8ZM320.60,258.8V257.6H321.35V258.8ZM322.10,258.8V258.1H322.85V258.8ZM323.60,258.8V258.0H324.35V258.8ZM325.85,258.8V257.7H326.60V258.1H327.35V257.7H328.10V258.1H328.85V258.8ZM331.85,258.8V257.9H332.60V257.6H333.35V257.8H334.10V258.1H334.85V258.8ZM335.60,258.8V258.1H336.35V257.9H337.10V257.8H337.85V257.7H338.60V258.8ZM339.35,258.8V257.8H340.10V258.8ZM341.60,258.8V258.1H342.35V257.6H343.10V257.6H343.85V258.8ZM345.35,258.8V258.0H346.10V257.7H346.85V258.8ZM348.35,258.8V258.0H349.10V257.2H349.85V258.8ZM350.60,258.8V257.8H351.35V258.8ZM352.85,258.8V257.2H353.60V258.8ZM354.35,258.8V258.0H355.10V257.7H355.85V258.8ZM357.35,258.8V258.1H358.10V258.1H358.85V258.1H359.60V258.8ZM360.35,258.8V257.6H361.10V258.8ZM361.85,258.8V257.6H362.60V257.8H363.35V258.8ZM364.85,258.8V257.7H365.60V257.7H366.35V257.7H367.10V257.8H367.85V258.1H368.60V257.2H369.35V258.8ZM370.85,258.8V257.9H371.60V257.7H372.35V257.7H373.10V258.1H373.85V258.8ZM374.60,258.8V257.9H375.35V258.8Z" fill="#e8111c"/>
<rect x="379.3" y="185.9" width="134.2" height="89.6" rx="1.6" fill="#f8f8f8" stroke="#858585" stroke-width="1.2"/>
<line x1="379.90000000000003" y1="198.0" x2="512.9" y2="198.0" stroke="#fdfdfd" stroke-width="0.9"/>
<line x1="379.90000000000003" y1="210.4" x2="512.9" y2="210.4" stroke="#fdfdfd" stroke-width="0.9"/>
<line x1="379.90000000000003" y1="222.5" x2="512.9" y2="222.5" stroke="#fdfdfd" stroke-width="0.9"/>
<line x1="379.90000000000003" y1="234.7" x2="512.9" y2="234.7" stroke="#fdfdfd" stroke-width="0.9"/>
<line x1="379.90000000000003" y1="246.9" x2="512.9" y2="246.9" stroke="#fdfdfd" stroke-width="0.9"/>
<line x1="379.90000000000003" y1="259.6" x2="512.9" y2="259.6" stroke="#fdfdfd" stroke-width="0.9"/>
<rect x="379.90000000000003" y="261.7" width="133.0" height="2.8" fill="#bebebe"/>
<rect x="379.90000000000003" y="264.5" width="133.0" height="1.4" fill="#fcfcfc"/>
<path d="M380.30,196.9V196.6H381.00V196.6H381.70V196.6H382.40V196.6H383.10V196.6H383.80V196.6H384.50V196.6H385.20V196.6H385.90V196.6H386.60V196.6H387.30V196.6H388.00V196.6H388.70V196.6H389.40V196.6H390.10V196.6H390.80V196.5H391.50V196.5H392.20V196.5H392.90V196.4H393.60V196.4H394.30V196.3H395.00V196.2H395.70V196.1H396.40V196.0H397.10V196.0H397.80V195.9H398.50V195.7H399.20V195.6H399.90V195.7H400.60V195.6H401.30V195.6H402.00V195.6H402.70V195.7H403.40V195.8H404.10V195.9H404.80V196.0H405.50V196.1H406.20V196.2H406.90V196.3H407.60V196.4H408.30V196.4H409.00V196.5H409.70V196.5H410.40V196.5H411.10V196.5H411.80V196.5H412.50V196.5H413.20V196.4H413.90V196.3H414.60V196.2H415.30V196.1H416.00V195.9H416.70V195.7H417.40V195.6H418.10V195.6H418.80V195.7H419.50V195.7H420.20V195.7H420.90V195.8H421.60V195.9H422.30V196.1H423.00V196.3H423.70V196.3H424.40V196.9H425.10V196.9ZM439.80,196.9V196.6H440.50V196.6H441.20V196.6H441.90V196.6H442.60V196.6H443.30V196.6H444.00V196.6H444.70V196.6H445.40V196.6H446.10V196.6H446.80V196.6H447.50V196.6H448.20V196.6H448.90V196.6H449.60V196.6H450.30V196.6H451.00V196.6H451.70V196.5H452.40V196.4H453.10V196.3H453.80V196.1H454.50V195.9H455.20V195.6H455.90V195.2H456.60V194.6H457.30V193.9H458.00V193.4H458.70V193.1H459.40V192.7H460.10V192.7H460.80V192.6H461.50V193.2H462.20V193.3H462.90V194.0H463.60V194.7H464.30V195.0H465.00V195.5H465.70V195.8H466.40V196.1H467.10V196.3H467.80V196.4H468.50V196.5H469.20V196.6H469.90V196.6H470.60V196.6H471.30V196.6H472.00V196.5H472.70V196.4H473.40V196.3H474.10V196.2H474.80V195.8H475.50V195.3H476.20V194.7H476.90V193.9H477.60V193.6H478.30V192.4H479.00V192.2H479.70V191.5H480.40V191.3H481.10V192.1H481.80V191.9H482.50V193.0H483.20V193.7H483.90V194.1H484.60V194.8H485.30V195.4H486.00V195.8H486.70V196.1H487.40V196.3H488.10V196.5H488.80V196.5H489.50V196.6H490.20V196.6H490.90V196.6H491.60V196.6H492.30V196.6H493.00V196.6H493.70V196.6H494.40V196.6H495.10V196.6H495.80V196.5H496.50V196.5H497.20V196.4H497.90V196.2H498.60V196.0H499.30V195.7H500.00V195.4H500.70V194.9H501.40V194.5H502.10V194.3H502.80V194.5H503.50V194.5H504.20V194.8H504.90V195.2H505.60V195.5H506.30V195.9H507.00V196.2H507.70V196.4H508.40V196.5H509.10V196.5H509.80V196.6H510.50V196.6H511.20V196.6H511.90V196.6H512.60V196.9Z" fill="#111111"/>
<path d="M380.30,209.3V208.8H381.00V208.8H381.70V208.8H382.40V208.8H383.10V208.8H383.80V208.8H384.50V208.8H385.20V208.8H385.90V208.8H386.60V208.8H387.30V208.8H388.00V208.8H388.70V208.8H389.40V208.8H390.10V208.7H390.80V208.7H391.50V208.8H392.20V208.7H392.90V208.7H393.60V208.7H394.30V208.6H395.00V208.6H395.70V208.6H396.40V208.5H397.10V208.4H397.80V208.2H398.50V208.0H399.20V208.0H399.90V207.7H400.60V207.6H401.30V207.5H402.00V207.3H402.70V207.1H403.40V206.8H404.10V207.1H404.80V206.9H405.50V206.6H406.20V206.8H406.90V206.8H407.60V206.9H408.30V207.1H409.00V207.2H409.70V207.3H410.40V207.5H411.10V207.6H411.80V207.9H412.50V208.0H413.20V208.2H413.90V208.3H414.60V208.4H415.30V208.5H416.00V208.6H416.70V208.6H417.40V208.6H418.10V208.7H418.80V208.7H419.50V208.8H420.20V208.8H420.90V208.8H421.60V208.8H422.30V208.8H423.00V208.8H423.70V208.8H424.40V208.8H425.10V208.8H425.80V208.8H426.50V208.8H427.20V208.8H427.90V208.8H428.60V208.8H429.30V208.8H430.00V208.8H430.70V208.8H431.40V208.8H432.10V208.8H432.80V208.8H433.50V208.8H434.20V208.8H434.90V208.8H435.60V208.8H436.30V208.8H437.00V208.8H437.70V208.8H438.40V208.8H439.10V208.8H439.80V208.8H440.50V208.8H441.20V208.8H441.90V208.8H442.60V208.8H443.30V208.8H444.00V208.8H444.70V208.8H445.40V208.8H446.10V208.8H446.80V208.8H447.50V208.8H448.20V208.8H448.90V208.8H449.60V208.8H450.30V208.8H451.00V208.6H451.70V208.6H452.40V208.4H453.10V208.2H453.80V207.6H454.50V207.1H455.20V206.3H455.90V205.3H456.60V204.0H457.30V203.0H458.00V201.8H458.70V200.5H459.40V200.7H460.10V199.4H460.80V200.3H461.50V201.0H462.20V201.5H462.90V202.4H463.60V204.0H464.30V205.2H465.00V206.1H465.70V206.2H466.40V206.9H467.10V207.3H467.80V207.5H468.50V207.7H469.20V207.8H469.90V207.8H470.60V207.8H471.30V207.9H472.00V207.7H472.70V207.5H473.40V207.3H474.10V207.1H474.80V206.5H475.50V205.7H476.20V205.2H476.90V203.6H477.60V202.6H478.30V201.9H479.00V201.3H479.70V200.6H480.40V199.8H481.10V200.1H481.80V200.8H482.50V202.2H483.20V202.8H483.90V203.8H484.60V205.2H485.30V206.0H486.00V206.8H486.70V207.2H487.40V207.4H488.10V207.5H488.80V207.8H489.50V207.9H490.20V207.8H490.90V207.9H491.60V207.9H492.30V207.8H493.00V207.8H493.70V207.8H494.40V207.7H495.10V207.5H495.80V207.3H496.50V207.0H497.20V206.4H497.90V206.8H498.60V206.4H499.30V206.0H500.00V205.5H500.70V205.1H501.40V205.2H502.10V205.4H502.80V205.8H503.50V206.2H504.20V207.0H504.90V207.3H505.60V207.7H506.30V208.1H507.00V208.4H507.70V208.6H508.40V208.7H509.10V208.7H509.80V208.7H510.50V208.8H511.20V208.8H511.90V208.8H512.60V209.3Z" fill="#e8111c"/>
<path d="M380.30,221.4V221.1H381.00V221.1H381.70V221.0H382.40V221.0H383.10V221.0H383.80V221.1H384.50V221.1H385.20V221.1H385.90V221.1H386.60V221.0H387.30V221.1H388.00V221.0H388.70V221.0H389.40V221.1H390.10V221.1H390.80V221.1H391.50V221.1H392.20V221.0H392.90V221.0H393.60V221.1H394.30V221.1H395.00V221.0H395.70V221.0H396.40V221.0H397.10V221.1H397.80V221.0H398.50V221.0H399.20V221.0H399.90V221.0H400.60V220.9H401.30V220.9H402.00V220.9H402.70V220.9H403.40V220.7H404.10V220.7H404.80V220.6H405.50V220.5H406.20V220.3H406.90V220.2H407.60V220.0H408.30V220.0H409.00V219.8H409.70V219.6H410.40V219.6H411.10V219.4H411.80V219.5H412.50V219.4H413.20V219.4H413.90V219.4H414.60V219.6H415.30V219.5H416.00V219.8H416.70V219.8H417.40V219.9H418.10V220.2H418.80V220.3H419.50V220.4H420.20V220.5H420.90V220.6H421.60V220.7H422.30V220.8H423.00V220.9H423.70V220.9H424.40V220.9H425.10V221.0H425.80V221.0H426.50V221.0H427.20V221.0H427.90V221.0H428.60V221.1H429.30V221.0H430.00V221.0H430.70V221.0H431.40V221.0H432.10V221.1H432.80V221.0H433.50V221.0H434.20V221.0H434.90V221.0H435.60V221.0H436.30V221.1H437.00V221.1H437.70V221.1H438.40V221.1H439.10V221.1H439.80V221.0H440.50V221.0H441.20V221.1H441.90V221.0H442.60V221.1H443.30V221.0H444.00V221.0H444.70V221.1H445.40V221.1H446.10V221.1H446.80V221.0H447.50V221.1H448.20V221.1H448.90V221.0H449.60V221.1H450.30V221.0H451.00V221.0H451.70V221.0H452.40V220.9H453.10V220.8H453.80V220.7H454.50V220.3H455.20V219.8H455.90V219.3H456.60V218.6H457.30V217.9H458.00V216.4H458.70V215.7H459.40V214.9H460.10V214.7H460.80V214.5H461.50V214.6H462.20V214.0H462.90V214.6H463.60V215.7H464.30V216.3H465.00V217.2H465.70V217.7H466.40V217.9H467.10V218.2H467.80V218.2H468.50V218.4H469.20V218.4H469.90V218.4H470.60V218.5H471.30V218.5H472.00V218.8H472.70V219.1H473.40V219.3H474.10V219.5H474.80V219.6H475.50V219.7H476.20V219.6H476.90V219.1H477.60V218.3H478.30V216.6H479.00V215.4H479.70V213.7H480.40V212.1H481.10V212.9H481.80V213.5H482.50V214.0H483.20V216.3H483.90V217.9H484.60V219.3H485.30V220.1H486.00V220.6H486.70V220.8H487.40V221.0H488.10V221.0H488.80V221.0H489.50V221.0H490.20V221.0H490.90V221.1H491.60V221.0H492.30V221.1H493.00V221.0H493.70V221.0H494.40V221.0H495.10V220.9H495.80V220.8H496.50V220.6H497.20V220.2H497.90V219.8H498.60V219.4H499.30V218.7H500.00V218.0H500.70V217.9H501.40V217.4H502.10V217.5H502.80V217.5H503.50V217.8H504.20V218.7H504.90V219.1H505.60V219.8H506.30V220.2H507.00V220.5H507.70V220.8H508.40V220.9H509.10V221.0H509.80V221.0H510.50V221.0H511.20V221.0H511.90V221.1H512.60V221.4Z" fill="#111111"/>
<path d="M380.30,233.6V233.2H381.00V233.2H381.70V233.3H382.40V233.3H383.10V233.2H383.80V233.2H384.50V233.3H385.20V233.2H385.90V233.2H386.60V233.3H387.30V233.3H388.00V233.2H388.70V233.2H389.40V233.2H390.10V233.2H390.80V233.3H391.50V233.2H392.20V233.2H392.90V233.2H393.60V233.3H394.30V233.2H395.00V233.3H395.70V233.2H396.40V233.3H397.10V233.3H397.80V233.3H398.50V233.3H399.20V233.3H399.90V233.2H400.60V233.2H401.30V233.2H402.00V233.2H402.70V233.2H403.40V233.2H404.10V233.1H404.80V233.1H405.50V233.0H406.20V232.9H406.90V232.9H407.60V232.8H408.30V232.6H409.00V232.5H409.70V232.4H410.40V232.2H411.10V232.0H411.80V232.1H412.50V232.0H413.20V232.0H413.90V232.2H414.60V232.1H415.30V232.3H416.00V232.5H416.70V232.6H417.40V232.6H418.10V232.8H418.80V232.9H419.50V233.0H420.20V233.0H420.90V233.1H421.60V233.2H422.30V233.2H423.00V233.2H423.70V233.2H424.40V233.2H425.10V233.2H425.80V233.3H426.50V233.2H427.20V233.3H427.90V233.2H428.60V233.2H429.30V233.2H430.00V233.2H430.70V233.2H431.40V233.3H432.10V233.2H432.80V233.3H433.50V233.2H434.20V233.2H434.90V233.2H435.60V233.2H436.30V233.2H437.00V233.3H437.70V233.3H438.40V233.2H439.10V233.2H439.80V233.2H440.50V233.3H441.20V233.3H441.90V233.2H442.60V233.3H443.30V233.2H444.00V233.3H444.70V233.3H445.40V233.3H446.10V233.2H446.80V233.3H447.50V233.3H448.20V233.2H448.90V233.2H449.60V233.3H450.30V233.3H451.00V233.2H451.70V233.2H452.40V233.1H453.10V233.1H453.80V232.9H454.50V232.6H455.20V232.1H455.90V231.6H456.60V231.2H457.30V230.3H458.00V229.3H458.70V228.4H459.40V227.8H460.10V227.5H460.80V227.7H461.50V227.1H462.20V227.6H462.90V228.4H463.60V229.6H464.30V230.3H465.00V231.1H465.70V231.7H466.40V232.1H467.10V232.6H467.80V232.8H468.50V233.0H469.20V233.1H469.90V233.2H470.60V233.2H471.30V233.2H472.00V233.2H472.70V233.1H473.40V233.0H474.10V232.9H474.80V232.7H475.50V232.4H476.20V232.1H476.90V231.8H477.60V231.2H478.30V230.7H479.00V230.6H479.70V229.9H480.40V230.1H481.10V230.0H481.80V230.0H482.50V230.1H483.20V230.7H483.90V230.8H484.60V231.6H485.30V231.8H486.00V232.3H486.70V232.5H487.40V232.8H488.10V232.9H488.80V233.1H489.50V233.1H490.20V233.2H490.90V233.2H491.60V233.2H492.30V233.3H493.00V233.3H493.70V233.2H494.40V233.2H495.10V233.2H495.80V233.2H496.50V233.0H497.20V232.8H497.90V232.6H498.60V232.2H499.30V231.9H500.00V231.4H500.70V231.0H501.40V230.8H502.10V231.0H502.80V231.1H503.50V231.6H504.20V231.9H504.90V232.4H505.60V232.7H506.30V232.9H507.00V233.1H507.70V233.1H508.40V233.2H509.10V233.2H509.80V233.3H510.50V233.3H511.20V233.2H511.90V233.3H512.60V233.6Z" fill="#e8111c"/>
<path d="M380.30,245.8V243.5H381.00V243.7H381.70V243.7H382.40V243.7H383.10V243.8H383.80V243.9H384.50V244.1H385.20V244.0H385.90V244.0H386.60V244.2H387.30V244.4H388.00V244.1H388.70V244.2H389.40V244.1H390.10V244.0H390.80V243.9H391.50V243.8H392.20V243.3H392.90V242.4H393.60V241.9H394.30V241.9H395.00V242.2H395.70V242.6H396.40V242.8H397.10V242.7H397.80V242.6H398.50V242.5H399.20V242.2H399.90V242.3H400.60V242.0H401.30V241.8H402.00V241.5H402.70V241.2H403.40V241.0H404.10V240.8H404.80V240.9H405.50V241.0H406.20V240.1H406.90V240.7H407.60V240.1H408.30V239.6H409.00V239.5H409.70V240.1H410.40V239.6H411.10V239.0H411.80V238.8H412.50V238.6H413.20V239.1H413.90V239.5H414.60V239.2H415.30V239.4H416.00V239.8H416.70V240.6H417.40V240.5H418.10V241.3H418.80V241.6H419.50V241.5H420.20V242.0H420.90V242.5H421.60V243.2H422.30V243.4H423.00V244.1H423.70V244.5H424.40V245.4H425.10V245.8ZM432.80,245.8V245.6H433.50V244.6H434.20V243.7H434.90V243.7H435.60V243.6H436.30V243.5H437.00V243.2H437.70V243.1H438.40V243.1H439.10V243.0H439.80V242.6H440.50V242.9H441.20V242.6H441.90V242.7H442.60V242.8H443.30V242.4H444.00V242.4H444.70V242.3H445.40V242.4H446.10V242.2H446.80V242.2H447.50V242.3H448.20V242.3H448.90V242.6H449.60V242.9H450.30V242.8H451.00V243.1H451.70V243.1H452.40V243.4H453.10V243.4H453.80V243.3H454.50V243.4H455.20V243.6H455.90V243.6H456.60V243.9H457.30V244.0H458.00V244.2H458.70V244.5H459.40V244.8H460.10V244.8H460.80V244.8H461.50V244.8H462.20V244.8H462.90V244.8H463.60V244.8H464.30V244.9H465.00V244.8H465.70V244.7H466.40V244.6H467.10V244.6H467.80V244.5H468.50V244.4H469.20V244.4H469.90V244.2H470.60V244.1H471.30V244.1H472.00V244.0H472.70V243.9H473.40V244.0H474.10V243.8H474.80V243.5H475.50V243.5H476.20V243.5H476.90V243.3H477.60V243.5H478.30V243.2H479.00V242.7H479.70V242.8H480.40V242.5H481.10V242.6H481.80V242.9H482.50V243.3H483.20V243.5H483.90V243.9H484.60V244.2H485.30V244.4H486.00V244.7H486.70V244.8H487.40V244.8H488.10V244.9H488.80V244.9H489.50V245.0H490.20V245.0H490.90V245.1H491.60V245.1H492.30V245.1H493.00V245.2H493.70V245.3H494.40V245.3H495.10V245.2H495.80V245.1H496.50V244.9H497.20V244.7H497.90V244.6H498.60V244.5H499.30V244.3H500.00V244.3H500.70V244.0H501.40V244.0H502.10V243.8H502.80V243.8H503.50V243.9H504.20V244.2H504.90V244.3H505.60V244.6H506.30V244.7H507.00V244.8H507.70V245.0H508.40V245.1H509.10V245.2H509.80V245.3H510.50V245.3H511.20V245.3H511.90V245.3H512.60V245.8Z" fill="#111111"/>
<path d="M380.30,258.5V257.1H381.00V257.0H381.70V257.0H382.40V256.9H383.10V257.1H383.80V256.9H384.50V257.0H385.20V256.2H385.90V255.4H386.60V255.3H387.30V255.1H388.00V254.8H388.70V254.3H389.40V254.6H390.10V254.4H390.80V254.2H391.50V254.3H392.20V254.1H392.90V253.6H393.60V253.8H394.30V253.6H395.00V253.6H395.70V253.1H396.40V253.2H397.10V253.5H397.80V253.4H398.50V253.0H399.20V253.3H399.90V252.6H400.60V252.9H401.30V252.4H402.00V252.3H402.70V252.8H403.40V252.6H404.10V252.1H404.80V251.8H405.50V252.0H406.20V251.5H406.90V251.3H407.60V251.3H408.30V249.9H409.00V249.3H409.70V249.7H410.40V250.5H411.10V250.8H411.80V251.5H412.50V251.2H413.20V252.2H413.90V251.6H414.60V252.3H415.30V252.5H416.00V252.5H416.70V252.9H417.40V252.7H418.10V252.9H418.80V253.5H419.50V253.5H420.20V253.6H420.90V253.8H421.60V254.6H422.30V255.3H423.00V255.4H423.70V255.9H424.40V256.3H425.10V256.8H425.80V257.3H426.50V257.3H427.20V257.3H427.90V257.3H428.60V257.4H429.30V257.4H430.00V257.5H430.70V257.5H431.40V257.5H432.10V257.5H432.80V257.5H433.50V257.4H434.20V257.5H434.90V257.5H435.60V257.4H436.30V257.4H437.00V257.3H437.70V257.4H438.40V257.4H439.10V257.3H439.80V257.4H440.50V257.3H441.20V257.2H441.90V257.3H442.60V257.3H443.30V257.2H444.00V257.3H444.70V257.3H445.40V257.3H446.10V257.3H446.80V257.2H447.50V257.1H448.20V257.2H448.90V257.1H449.60V257.2H450.30V257.1H451.00V257.2H451.70V257.0H452.40V257.1H453.10V257.0H453.80V257.1H454.50V257.0H455.20V257.0H455.90V256.9H456.60V256.8H457.30V256.8H458.00V256.6H458.70V256.6H459.40V256.5H460.10V256.6H460.80V256.7H461.50V256.6H462.20V256.7H462.90V256.9H463.60V256.9H464.30V256.9H465.00V257.1H465.70V257.0H466.40V257.0H467.10V257.1H467.80V257.1H468.50V257.3H469.20V257.3H469.90V257.3H470.60V257.4H471.30V257.2H472.00V257.4H472.70V257.2H473.40V257.3H474.10V257.3H474.80V257.4H475.50V257.3H476.20V257.2H476.90V257.4H477.60V257.3H478.30V257.2H479.00V257.4H479.70V257.3H480.40V257.2H481.10V257.3H481.80V257.3H482.50V257.4H483.20V257.3H483.90V257.3H484.60V257.2H485.30V257.2H486.00V257.3H486.70V257.4H487.40V257.2H488.10V257.4H488.80V257.2H489.50V257.3H490.20V257.2H490.90V257.3H491.60V257.3H492.30V257.3H493.00V257.3H493.70V257.3H494.40V257.3H495.10V257.3H495.80V257.3H496.50V257.4H497.20V257.4H497.90V257.3H498.60V257.4H499.30V257.3H500.00V257.3H500.70V257.3H501.40V257.2H502.10V257.3H502.80V257.3H503.50V257.3H504.20V257.3H504.90V257.2H505.60V257.2H506.30V257.2H507.00V257.2H507.70V257.4H508.40V257.3H509.10V257.3H509.80V257.3H510.50V257.3H511.20V257.3H511.90V257.2H512.60V258.5Z" fill="#e8111c"/>
<line x1="243.0" y1="133.1" x2="320.0" y2="133.1" stroke="#6a6fc6" stroke-width="0.9"/>
<rect x="245.2" y="132.1" width="1.6" height="2.0" fill="#6a6fc6"/>
<rect x="254.7" y="132.1" width="1.6" height="2.0" fill="#6a6fc6"/>
<rect x="264.2" y="132.1" width="1.6" height="2.0" fill="#6a6fc6"/>
<rect x="273.7" y="132.1" width="1.6" height="2.0" fill="#6a6fc6"/>
<rect x="283.2" y="132.1" width="1.6" height="2.0" fill="#6a6fc6"/>
<rect x="292.7" y="132.1" width="1.6" height="2.0" fill="#6a6fc6"/>
<rect x="302.2" y="132.1" width="1.6" height="2.0" fill="#6a6fc6"/>
<rect x="311.7" y="132.1" width="1.6" height="2.0" fill="#6a6fc6"/>
<rect x="291.4" y="132.0" width="1.0" height="2.2" fill="#2b30a0"/>
<rect x="295.2" y="131.5" width="1.2" height="3.2" fill="#2b30a0"/>
<rect x="300.8" y="131.5" width="1.1" height="3.2" fill="#2b30a0"/>
<rect x="302.9" y="131.5" width="1.0" height="3.2" fill="#2b30a0"/>
<rect x="304.0" y="131.5" width="1.0" height="3.2" fill="#2b30a0"/>
<rect x="305.3" y="131.5" width="1.0" height="3.2" fill="#2b30a0"/>
<rect x="311.2" y="131.3" width="1.6" height="3.6" fill="#2b30a0"/>
<path d="M317.6,131.2 L320.6,133.1 L317.6,135.0 Z" fill="#2b30a0"/>
<text x="242.8" y="139.4" font-size="5.6" fill="#777">1</text>
<line x1="380.0" y1="133.1" x2="473.5" y2="133.1" stroke="#6a6fc6" stroke-width="0.9"/>
<rect x="382.2" y="132.1" width="1.6" height="2.0" fill="#6a6fc6"/>
<rect x="391.7" y="132.1" width="1.6" height="2.0" fill="#6a6fc6"/>
<rect x="401.2" y="132.1" width="1.6" height="2.0" fill="#6a6fc6"/>
<rect x="410.7" y="132.1" width="1.6" height="2.0" fill="#6a6fc6"/>
<rect x="420.2" y="132.1" width="1.6" height="2.0" fill="#6a6fc6"/>
<rect x="429.7" y="132.1" width="1.6" height="2.0" fill="#6a6fc6"/>
<rect x="439.2" y="132.1" width="1.6" height="2.0" fill="#6a6fc6"/>
<rect x="448.7" y="132.1" width="1.6" height="2.0" fill="#6a6fc6"/>
<rect x="458.2" y="132.1" width="1.6" height="2.0" fill="#6a6fc6"/>
<rect x="467.7" y="132.1" width="1.6" height="2.0" fill="#6a6fc6"/>
<rect x="386.8" y="131.4" width="1.2" height="3.4" fill="#2b30a0"/>
<rect x="449.9" y="131.5" width="1.0" height="3.2" fill="#2b30a0"/>
<rect x="455.0" y="131.5" width="1.0" height="3.2" fill="#2b30a0"/>
<rect x="472.1" y="131.7" width="1.8" height="2.8" fill="#2b30a0"/>
<line x1="242.5" y1="267.4" x2="375.5" y2="267.4" stroke="#6a6fc6" stroke-width="0.9"/>
<rect x="244.7" y="266.4" width="1.6" height="2.0" fill="#6a6fc6"/>
<rect x="254.5" y="266.4" width="1.6" height="2.0" fill="#6a6fc6"/>
<rect x="264.3" y="266.4" width="1.6" height="2.0" fill="#6a6fc6"/>
<rect x="274.1" y="266.4" width="1.6" height="2.0" fill="#6a6fc6"/>
<rect x="283.9" y="266.4" width="1.6" height="2.0" fill="#6a6fc6"/>
<rect x="293.7" y="266.4" width="1.6" height="2.0" fill="#6a6fc6"/>
<rect x="303.5" y="266.4" width="1.6" height="2.0" fill="#6a6fc6"/>
<rect x="313.3" y="266.4" width="1.6" height="2.0" fill="#6a6fc6"/>
<rect x="323.1" y="266.4" width="1.6" height="2.0" fill="#6a6fc6"/>
<rect x="332.9" y="266.4" width="1.6" height="2.0" fill="#6a6fc6"/>
<rect x="342.7" y="266.4" width="1.6" height="2.0" fill="#6a6fc6"/>
<rect x="352.5" y="266.4" width="1.6" height="2.0" fill="#6a6fc6"/>
<rect x="362.3" y="266.4" width="1.6" height="2.0" fill="#6a6fc6"/>
<rect x="372.1" y="266.4" width="1.6" height="2.0" fill="#6a6fc6"/>
<rect x="282.8" y="266.3" width="0.9" height="2.2" fill="#2b30a0"/>
<rect x="289.6" y="266.4" width="0.9" height="2.0" fill="#2b30a0"/>
<line x1="380.2" y1="266.8" x2="498.8" y2="266.8" stroke="#6a6fc6" stroke-width="0.9"/>
<rect x="382.4" y="265.8" width="1.6" height="2.0" fill="#6a6fc6"/>
<rect x="392.4" y="265.8" width="1.6" height="2.0" fill="#6a6fc6"/>
<rect x="402.4" y="265.8" width="1.6" height="2.0" fill="#6a6fc6"/>
<rect x="412.4" y="265.8" width="1.6" height="2.0" fill="#6a6fc6"/>
<rect x="422.4" y="265.8" width="1.6" height="2.0" fill="#6a6fc6"/>
<rect x="432.4" y="265.8" width="1.6" height="2.0" fill="#6a6fc6"/>
<rect x="442.4" y="265.8" width="1.6" height="2.0" fill="#6a6fc6"/>
<rect x="452.4" y="265.8" width="1.6" height="2.0" fill="#6a6fc6"/>
<rect x="462.4" y="265.8" width="1.6" height="2.0" fill="#6a6fc6"/>
<rect x="472.4" y="265.8" width="1.6" height="2.0" fill="#6a6fc6"/>
<rect x="482.4" y="265.8" width="1.6" height="2.0" fill="#6a6fc6"/>
<rect x="492.4" y="265.8" width="1.6" height="2.0" fill="#6a6fc6"/>
<rect x="379.8" y="265.5" width="7.5" height="2.6" fill="#2b30a0"/>
<rect x="390.8" y="265.5" width="4.5" height="2.6" fill="#2b30a0"/>
<rect x="394.9" y="265.0" width="1.2" height="3.6" fill="#2b30a0"/>
<rect x="398.2" y="264.9" width="4.6" height="3.8" fill="#2b30a0"/>
<rect x="404.8" y="264.9" width="4.8" height="3.8" fill="#2b30a0"/>
<rect x="413.3" y="264.9" width="4.4" height="3.8" fill="#2b30a0"/>
<rect x="420.3" y="264.9" width="7.4" height="3.8" fill="#2b30a0"/>
<rect x="470.8" y="265.0" width="0.9" height="3.6" fill="#2b30a0"/>
<rect x="477.3" y="265.5" width="6.0" height="2.6" fill="#2b30a0"/>
<rect x="498.0" y="265.0" width="1.2" height="3.6" fill="#2b30a0"/>
<text x="236.40" y="66.10" font-size="8.4" text-anchor="end" fill="#333" textLength="14.6" lengthAdjust="spacingAndGlyphs">Mll1</text>
<text x="236.60" y="90.50" font-size="8.4" text-anchor="end" fill="#333" textLength="22.0" lengthAdjust="spacingAndGlyphs">Menin</text>
<text x="230.00" y="109.30" font-size="8.4" text-anchor="end" fill="#333" textLength="27.5" lengthAdjust="spacingAndGlyphs">NUP98-</text>
<text x="195.8" y="119.2" font-size="8.4" fill="#333"><tspan textLength="33.0" lengthAdjust="spacingAndGlyphs">HOXD13</tspan><tspan font-size="5.6" dy="-3.6" dx="0.5">bio</tspan></text>
<rect x="238.4" y="53.3" width="1.6" height="20.3" fill="#6e6e6e"/>
<rect x="238.4" y="77.6" width="1.6" height="20.4" fill="#6e6e6e"/>
<rect x="238.4" y="101.9" width="1.6" height="20.3" fill="#6e6e6e"/>
<text x="236.40" y="200.30" font-size="8.4" text-anchor="end" fill="#333" textLength="14.6" lengthAdjust="spacingAndGlyphs">Mll1</text>
<text x="236.60" y="224.70" font-size="8.4" text-anchor="end" fill="#333" textLength="22.0" lengthAdjust="spacingAndGlyphs">Menin</text>
<text x="230.00" y="243.50" font-size="8.4" text-anchor="end" fill="#333" textLength="27.5" lengthAdjust="spacingAndGlyphs">NUP98-</text>
<text x="195.8" y="253.4" font-size="8.4" fill="#333"><tspan textLength="33.0" lengthAdjust="spacingAndGlyphs">HOXD13</tspan><tspan font-size="5.6" dy="-3.6" dx="0.5">bio</tspan></text>
<rect x="238.4" y="187.5" width="1.6" height="20.3" fill="#6e6e6e"/>
<rect x="238.4" y="211.8" width="1.6" height="20.4" fill="#6e6e6e"/>
<rect x="238.4" y="236.1" width="1.6" height="20.3" fill="#6e6e6e"/>
<text x="296.40" y="154.60" font-size="9.4" text-anchor="start" font-style="italic" textLength="25.0" lengthAdjust="spacingAndGlyphs">Meis1</text>
<text x="436.10" y="154.60" font-size="9.4" text-anchor="start" font-style="italic" textLength="19.8" lengthAdjust="spacingAndGlyphs">Eya1</text>
<text x="296.00" y="289.20" font-size="9.4" text-anchor="start" font-style="italic" textLength="26.4" lengthAdjust="spacingAndGlyphs">Mef2c</text>
<text x="432.10" y="289.20" font-size="9.4" text-anchor="start" font-style="italic" textLength="28.9" lengthAdjust="spacingAndGlyphs">Gapdh</text>
<text x="9.80" y="539.40" font-size="11.6" text-anchor="start" font-weight="bold" fill="#000" textLength="7.8" lengthAdjust="spacingAndGlyphs">C</text>
<text x="97.3" y="540.7" font-size="9.4" font-weight="bold" fill="#231f20"><tspan textLength="73.4" lengthAdjust="spacingAndGlyphs">NUP98-HOXD13</tspan><tspan font-size="7.4" dy="-3.3" dx="0.4" textLength="10.8" lengthAdjust="spacingAndGlyphs">bio</tspan></text>
<text x="115.30" y="555.20" font-size="8.6" text-anchor="start" fill="#333" textLength="49.7" lengthAdjust="spacingAndGlyphs">**** p&lt;0.0001</text>
<text x="93.30" y="569.50" font-size="8.2" text-anchor="start" fill="#333" textLength="41.0" lengthAdjust="spacingAndGlyphs">**p=.00024</text>
<path d="M87.1,563.6 V560.4 H193.3 V563.9" fill="none" stroke="#1a1a1a" stroke-width="1.25"/>
<path d="M87.1,577.6 V574.1 H140.0 V577.6" fill="none" stroke="#1a1a1a" stroke-width="1.25"/>
<line x1="51.5" y1="560.6" x2="51.5" y2="671.0" stroke="#1a1a1a" stroke-width="1.2"/>
<line x1="50.9" y1="670.5" x2="227.8" y2="670.5" stroke="#1a1a1a" stroke-width="1.3"/>
<line x1="46.4" y1="561.2" x2="51.5" y2="561.2" stroke="#1a1a1a" stroke-width="1.1"/>
<text x="45.00" y="564.20" font-size="8.6" text-anchor="end" fill="#333" textLength="4.5" lengthAdjust="spacingAndGlyphs">2</text>
<line x1="46.4" y1="588.4" x2="51.5" y2="588.4" stroke="#1a1a1a" stroke-width="1.1"/>
<text x="45.00" y="591.40" font-size="8.6" text-anchor="end" fill="#333" textLength="4.5" lengthAdjust="spacingAndGlyphs">0</text>
<line x1="46.4" y1="615.9" x2="51.5" y2="615.9" stroke="#1a1a1a" stroke-width="1.1"/>
<text x="45.00" y="618.90" font-size="8.6" text-anchor="end" fill="#333" textLength="8.6" lengthAdjust="spacingAndGlyphs">&#8722;2</text>
<line x1="46.4" y1="643.3" x2="51.5" y2="643.3" stroke="#1a1a1a" stroke-width="1.1"/>
<text x="45.00" y="646.30" font-size="8.6" text-anchor="end" fill="#333" textLength="8.6" lengthAdjust="spacingAndGlyphs">&#8722;4</text>
<line x1="46.4" y1="670.5" x2="51.5" y2="670.5" stroke="#1a1a1a" stroke-width="1.1"/>
<text x="45.00" y="673.50" font-size="8.6" text-anchor="end" fill="#333" textLength="8.6" lengthAdjust="spacingAndGlyphs">&#8722;6</text>
<line x1="86.8" y1="670.5" x2="86.8" y2="673.3" stroke="#1a1a1a" stroke-width="1.1"/>
<line x1="139.8" y1="670.5" x2="139.8" y2="673.3" stroke="#1a1a1a" stroke-width="1.1"/>
<line x1="192.8" y1="670.5" x2="192.8" y2="673.3" stroke="#1a1a1a" stroke-width="1.1"/>
<line x1="52.1" y1="588.5" x2="226.8" y2="588.5" stroke="#8a8a8a" stroke-width="1.05" stroke-dasharray="4.3 2.05"/>
<text x="86.80" y="683.60" font-size="8.3" text-anchor="middle" fill="#333" textLength="53.5" lengthAdjust="spacingAndGlyphs">NHD13 targets</text>
<text x="86.80" y="693.60" font-size="8.3" text-anchor="middle" fill="#333" textLength="64.0" lengthAdjust="spacingAndGlyphs">&#916;Gene expression</text>
<text x="87.00" y="703.50" font-size="8.3" text-anchor="middle" fill="#333" textLength="31.7" lengthAdjust="spacingAndGlyphs">&gt;Log2FC</text>
<text x="139.80" y="683.60" font-size="8.3" text-anchor="middle" fill="#333" textLength="37.5" lengthAdjust="spacingAndGlyphs">All NHD13</text>
<text x="139.80" y="693.60" font-size="8.3" text-anchor="middle" fill="#333" textLength="26.0" lengthAdjust="spacingAndGlyphs">targets</text>
<text x="192.80" y="683.60" font-size="8.3" text-anchor="middle" fill="#333" textLength="34.5" lengthAdjust="spacingAndGlyphs">All genes</text>
<text transform="translate(18.9 615.0) rotate(-90)" font-size="8.4" text-anchor="middle" fill="#333"><tspan textLength="121.5" lengthAdjust="spacingAndGlyphs">Log2 fold change in NUP98-HOXD13</tspan><tspan font-size="5.4" dy="-3.4">bio</tspan></text>
<text transform="translate(30.4 615.0) rotate(-90)" font-size="8.4" text-anchor="middle" fill="#333" textLength="69.4" lengthAdjust="spacingAndGlyphs">chromatin occupancy</text>
<line x1="87.0" y1="582.6" x2="87.0" y2="627.0" stroke="#111" stroke-width="1.2"/>
<path d="M87.30,585.40 C87.95,585.62 89.50,586.17 91.20,586.70 C92.90,587.23 96.13,587.88 97.50,588.60 C98.87,589.32 99.40,590.30 99.40,591.00 C99.40,591.70 98.25,592.25 97.50,592.80 C96.75,593.35 94.40,593.70 94.90,594.30 C95.40,594.90 98.95,595.57 100.50,596.40 C102.05,597.23 104.25,598.28 104.20,599.30 C104.15,600.32 100.78,601.27 100.20,602.50 C99.62,603.73 100.13,605.23 100.70,606.70 C101.27,608.17 104.03,610.07 103.60,611.30 C103.17,612.53 99.82,613.12 98.10,614.10 C96.38,615.08 94.80,616.07 93.30,617.20 C91.80,618.33 90.10,619.97 89.10,620.90 C88.10,621.83 87.70,622.48 87.30,622.80 C86.90,623.12 87.10,623.12 86.70,622.80 C86.30,622.48 85.90,621.83 84.90,620.90 C83.90,619.97 82.20,618.33 80.70,617.20 C79.20,616.07 77.62,615.08 75.90,614.10 C74.18,613.12 70.83,612.53 70.40,611.30 C69.97,610.07 72.73,608.17 73.30,606.70 C73.87,605.23 74.38,603.73 73.80,602.50 C73.22,601.27 69.85,600.32 69.80,599.30 C69.75,598.28 71.95,597.23 73.50,596.40 C75.05,595.57 78.60,594.90 79.10,594.30 C79.60,593.70 77.25,593.35 76.50,592.80 C75.75,592.25 74.60,591.70 74.60,591.00 C74.60,590.30 75.13,589.32 76.50,588.60 C77.87,587.88 81.10,587.23 82.80,586.70 C84.50,586.17 86.05,585.62 86.70,585.40 Z" fill="#3d74a6" stroke="#111" stroke-width="1.25" stroke-linejoin="round"/>
<line x1="73.28" y1="597.2" x2="100.72" y2="597.2" stroke="#24486a" stroke-width="0.9"/>
<line x1="74.49" y1="603.4" x2="99.51" y2="603.4" stroke="#24486a" stroke-width="0.9"/>
<line x1="71.59" y1="611.5" x2="102.41" y2="611.5" stroke="#24486a" stroke-width="0.9"/>
<line x1="139.9" y1="579.8" x2="139.9" y2="632.8" stroke="#111" stroke-width="1.2"/>
<path d="M140.20,582.40 C140.48,582.78 141.20,584.05 141.90,584.70 C142.60,585.35 143.18,585.68 144.40,586.30 C145.62,586.92 147.67,587.60 149.20,588.40 C150.73,589.20 152.42,590.23 153.60,591.10 C154.78,591.97 155.67,592.73 156.30,593.60 C156.93,594.47 157.75,595.42 157.40,596.30 C157.05,597.18 155.48,598.02 154.20,598.90 C152.92,599.78 150.92,600.72 149.70,601.60 C148.48,602.48 147.67,603.32 146.90,604.20 C146.13,605.08 145.60,606.12 145.10,606.90 C144.60,607.68 143.88,608.23 143.90,608.90 C143.92,609.57 145.32,610.23 145.20,610.90 C145.08,611.57 143.65,612.22 143.20,612.90 C142.75,613.58 142.55,614.28 142.50,615.00 C142.45,615.72 143.07,616.50 142.90,617.20 C142.73,617.90 141.82,618.57 141.50,619.20 C141.18,619.83 141.22,620.43 141.00,621.00 C140.78,621.57 140.43,622.33 140.20,622.60 C139.97,622.87 139.83,622.87 139.60,622.60 C139.37,622.33 139.02,621.57 138.80,621.00 C138.58,620.43 138.62,619.83 138.30,619.20 C137.98,618.57 137.07,617.90 136.90,617.20 C136.73,616.50 137.35,615.72 137.30,615.00 C137.25,614.28 137.05,613.58 136.60,612.90 C136.15,612.22 134.72,611.57 134.60,610.90 C134.48,610.23 135.88,609.57 135.90,608.90 C135.92,608.23 135.20,607.68 134.70,606.90 C134.20,606.12 133.67,605.08 132.90,604.20 C132.13,603.32 131.32,602.48 130.10,601.60 C128.88,600.72 126.88,599.78 125.60,598.90 C124.32,598.02 122.75,597.18 122.40,596.30 C122.05,595.42 122.87,594.47 123.50,593.60 C124.13,592.73 125.02,591.97 126.20,591.10 C127.38,590.23 129.07,589.20 130.60,588.40 C132.13,587.60 134.18,586.92 135.40,586.30 C136.62,585.68 137.20,585.35 137.90,584.70 C138.60,584.05 139.32,582.78 139.60,582.40 Z" fill="#29a2df" stroke="#111" stroke-width="1.25" stroke-linejoin="round"/>
<line x1="124.26" y1="593.7" x2="155.54" y2="593.7" stroke="#1d6f99" stroke-width="0.9"/>
<line x1="124.92" y1="597.7" x2="154.88" y2="597.7" stroke="#1d6f99" stroke-width="0.9"/>
<line x1="133.16" y1="603.7" x2="146.64" y2="603.7" stroke="#1d6f99" stroke-width="0.9"/>
<line x1="192.7" y1="576.1" x2="192.7" y2="631.6" stroke="#111" stroke-width="1.2"/>
<path d="M193.00,582.40 C193.28,582.70 194.00,583.67 194.70,584.20 C195.40,584.73 196.12,585.17 197.20,585.60 C198.28,586.03 199.82,586.40 201.20,586.80 C202.58,587.20 204.28,587.55 205.50,588.00 C206.72,588.45 207.77,589.00 208.50,589.50 C209.23,590.00 209.60,590.50 209.90,591.00 C210.20,591.50 210.33,592.00 210.30,592.50 C210.27,593.00 210.10,593.50 209.70,594.00 C209.30,594.50 208.67,594.92 207.90,595.50 C207.13,596.08 206.03,596.75 205.10,597.50 C204.17,598.25 203.23,599.08 202.30,600.00 C201.37,600.92 200.33,602.00 199.50,603.00 C198.67,604.00 197.90,605.00 197.30,606.00 C196.70,607.00 196.25,608.08 195.90,609.00 C195.55,609.92 195.40,610.73 195.20,611.50 C195.00,612.27 194.93,612.93 194.70,613.60 C194.47,614.27 193.88,614.93 193.80,615.50 C193.72,616.07 194.22,616.52 194.20,617.00 C194.18,617.48 193.90,618.00 193.70,618.40 C193.50,618.80 193.22,619.23 193.00,619.40 C192.78,619.57 192.62,619.57 192.40,619.40 C192.18,619.23 191.90,618.80 191.70,618.40 C191.50,618.00 191.22,617.48 191.20,617.00 C191.18,616.52 191.68,616.07 191.60,615.50 C191.52,614.93 190.93,614.27 190.70,613.60 C190.47,612.93 190.40,612.27 190.20,611.50 C190.00,610.73 189.85,609.92 189.50,609.00 C189.15,608.08 188.70,607.00 188.10,606.00 C187.50,605.00 186.73,604.00 185.90,603.00 C185.07,602.00 184.03,600.92 183.10,600.00 C182.17,599.08 181.23,598.25 180.30,597.50 C179.37,596.75 178.27,596.08 177.50,595.50 C176.73,594.92 176.10,594.50 175.70,594.00 C175.30,593.50 175.13,593.00 175.10,592.50 C175.07,592.00 175.20,591.50 175.50,591.00 C175.80,590.50 176.17,590.00 176.90,589.50 C177.63,589.00 178.68,588.45 179.90,588.00 C181.12,587.55 182.82,587.20 184.20,586.80 C185.58,586.40 187.12,586.03 188.20,585.60 C189.28,585.17 190.00,584.73 190.70,584.20 C191.40,583.67 192.12,582.70 192.40,582.40 Z" fill="#ececec" stroke="#111" stroke-width="1.25" stroke-linejoin="round"/>
<line x1="176.03" y1="592.0" x2="209.37" y2="592.0" stroke="#9a9a9a" stroke-width="0.9"/>
<line x1="177.82" y1="595.1" x2="207.58" y2="595.1" stroke="#9a9a9a" stroke-width="0.9"/>
<line x1="184.83" y1="601.0" x2="200.57" y2="601.0" stroke="#9a9a9a" stroke-width="0.9"/>
<text x="237.90" y="502.50" font-size="11.0" text-anchor="start" font-weight="bold" fill="#000" textLength="7.6" lengthAdjust="spacingAndGlyphs">D</text>
<text x="273.3" y="502.5" font-size="9.2" font-weight="bold" fill="#231f20"><tspan textLength="73.9" lengthAdjust="spacingAndGlyphs">NUP98-HOXD13</tspan><tspan font-size="6.8" dy="-3.2" dx="0.6" textLength="10.5" lengthAdjust="spacingAndGlyphs">bio</tspan></text>
<text x="360.70" y="502.50" font-size="9.2" text-anchor="start" font-weight="bold" textLength="129.6" lengthAdjust="spacingAndGlyphs">and MLL1 occupancy changes</text>
<line x1="293.2" y1="602.3" x2="471.0" y2="602.3" stroke="#1a1a1a" stroke-width="1.2"/>
<line x1="435.1" y1="514.6" x2="435.1" y2="689.6" stroke="#1a1a1a" stroke-width="1.2"/>
<line x1="293.1" y1="602.3" x2="293.1" y2="605.6" stroke="#1a1a1a" stroke-width="1.1"/>
<line x1="328.5" y1="602.3" x2="328.5" y2="605.6" stroke="#1a1a1a" stroke-width="1.1"/>
<line x1="364.0" y1="602.3" x2="364.0" y2="605.6" stroke="#1a1a1a" stroke-width="1.1"/>
<line x1="399.4" y1="602.3" x2="399.4" y2="605.6" stroke="#1a1a1a" stroke-width="1.1"/>
<line x1="470.3" y1="602.3" x2="470.3" y2="605.6" stroke="#1a1a1a" stroke-width="1.1"/>
<line x1="432.0" y1="514.8" x2="435.1" y2="514.8" stroke="#1a1a1a" stroke-width="1.1"/>
<line x1="432.0" y1="558.0" x2="435.1" y2="558.0" stroke="#1a1a1a" stroke-width="1.1"/>
<line x1="432.0" y1="646.3" x2="435.1" y2="646.3" stroke="#1a1a1a" stroke-width="1.1"/>
<line x1="432.0" y1="689.1" x2="435.1" y2="689.1" stroke="#1a1a1a" stroke-width="1.1"/>
<g fill="#c8102e">
<circle cx="403.4" cy="601.9" r="2.15"/>
<circle cx="415.4" cy="581.8" r="2.15"/>
<circle cx="429.7" cy="600.1" r="2.15"/>
<circle cx="432.6" cy="590.3" r="2.15"/>
<circle cx="421.6" cy="599.8" r="2.15"/>
<circle cx="408.5" cy="613.1" r="2.15"/>
<circle cx="402.5" cy="611.4" r="2.15"/>
<circle cx="425.0" cy="601.5" r="2.15"/>
<circle cx="412.3" cy="633.6" r="2.15"/>
<circle cx="417.7" cy="599.0" r="2.15"/>
<circle cx="418.8" cy="599.0" r="2.15"/>
<circle cx="412.6" cy="604.9" r="2.15"/>
<circle cx="419.0" cy="612.3" r="2.15"/>
<circle cx="409.8" cy="638.4" r="2.15"/>
<circle cx="400.2" cy="612.7" r="2.15"/>
<circle cx="424.7" cy="626.6" r="2.15"/>
<circle cx="424.6" cy="595.2" r="2.15"/>
<circle cx="412.5" cy="614.0" r="2.15"/>
<circle cx="419.6" cy="607.6" r="2.15"/>
<circle cx="412.0" cy="623.6" r="2.15"/>
<circle cx="434.3" cy="595.2" r="2.15"/>
<circle cx="411.8" cy="617.6" r="2.15"/>
<circle cx="422.5" cy="590.8" r="2.15"/>
<circle cx="411.7" cy="621.2" r="2.15"/>
<circle cx="415.9" cy="603.0" r="2.15"/>
<circle cx="419.4" cy="604.0" r="2.15"/>
<circle cx="417.0" cy="584.4" r="2.15"/>
<circle cx="437.1" cy="595.2" r="2.15"/>
<circle cx="406.9" cy="623.5" r="2.15"/>
<circle cx="420.6" cy="603.9" r="2.15"/>
<circle cx="429.1" cy="623.6" r="2.15"/>
<circle cx="423.4" cy="619.7" r="2.15"/>
<circle cx="411.0" cy="618.6" r="2.15"/>
<circle cx="397.4" cy="615.7" r="2.15"/>
<circle cx="431.9" cy="608.1" r="2.15"/>
<circle cx="423.7" cy="580.5" r="2.15"/>
<circle cx="425.8" cy="605.8" r="2.15"/>
<circle cx="397.3" cy="602.7" r="2.15"/>
<circle cx="403.0" cy="636.5" r="2.15"/>
<circle cx="407.4" cy="609.5" r="2.15"/>
<circle cx="414.1" cy="614.3" r="2.15"/>
<circle cx="422.8" cy="605.3" r="2.15"/>
<circle cx="418.9" cy="607.8" r="2.15"/>
<circle cx="431.2" cy="595.7" r="2.15"/>
<circle cx="410.0" cy="615.1" r="2.15"/>
<circle cx="399.1" cy="605.9" r="2.15"/>
<circle cx="405.4" cy="616.7" r="2.15"/>
<circle cx="430.1" cy="600.2" r="2.15"/>
<circle cx="420.2" cy="598.9" r="2.15"/>
<circle cx="413.8" cy="580.9" r="2.15"/>
<circle cx="403.2" cy="600.5" r="2.15"/>
<circle cx="426.6" cy="607.2" r="2.15"/>
<circle cx="430.1" cy="615.0" r="2.15"/>
<circle cx="413.5" cy="620.1" r="2.15"/>
<circle cx="429.5" cy="596.1" r="2.15"/>
<circle cx="398.5" cy="619.3" r="2.15"/>
<circle cx="407.5" cy="613.3" r="2.15"/>
<circle cx="411.7" cy="613.0" r="2.15"/>
<circle cx="432.6" cy="592.0" r="2.15"/>
<circle cx="406.5" cy="612.8" r="2.15"/>
<circle cx="424.8" cy="605.7" r="2.15"/>
<circle cx="421.6" cy="580.9" r="2.15"/>
<circle cx="404.0" cy="629.5" r="2.15"/>
<circle cx="419.8" cy="587.2" r="2.15"/>
<circle cx="407.0" cy="596.2" r="2.15"/>
<circle cx="405.3" cy="626.8" r="2.15"/>
<circle cx="414.4" cy="620.3" r="2.15"/>
<circle cx="419.2" cy="587.6" r="2.15"/>
<circle cx="409.5" cy="636.9" r="2.15"/>
<circle cx="408.1" cy="599.8" r="2.15"/>
<circle cx="431.4" cy="597.7" r="2.15"/>
<circle cx="416.9" cy="622.8" r="2.15"/>
<circle cx="396.4" cy="624.1" r="2.15"/>
<circle cx="404.7" cy="598.0" r="2.15"/>
<circle cx="407.5" cy="625.3" r="2.15"/>
<circle cx="415.4" cy="586.1" r="2.15"/>
<circle cx="404.0" cy="631.8" r="2.15"/>
<circle cx="429.0" cy="585.8" r="2.15"/>
<circle cx="403.0" cy="613.5" r="2.15"/>
<circle cx="428.0" cy="617.3" r="2.15"/>
<circle cx="429.1" cy="593.3" r="2.15"/>
<circle cx="410.4" cy="593.6" r="2.15"/>
<circle cx="416.1" cy="599.7" r="2.15"/>
<circle cx="419.9" cy="589.6" r="2.15"/>
<circle cx="410.9" cy="599.8" r="2.15"/>
<circle cx="402.8" cy="601.6" r="2.15"/>
<circle cx="405.0" cy="600.2" r="2.15"/>
<circle cx="423.7" cy="602.8" r="2.15"/>
<circle cx="401.5" cy="621.9" r="2.15"/>
<circle cx="420.4" cy="620.5" r="2.15"/>
<circle cx="414.7" cy="605.1" r="2.15"/>
<circle cx="408.9" cy="612.7" r="2.15"/>
<circle cx="422.8" cy="604.3" r="2.15"/>
<circle cx="414.0" cy="614.4" r="2.15"/>
<circle cx="418.1" cy="608.1" r="2.15"/>
<circle cx="406.0" cy="615.5" r="2.15"/>
<circle cx="405.3" cy="603.9" r="2.15"/>
<circle cx="418.9" cy="628.9" r="2.15"/>
<circle cx="428.7" cy="598.5" r="2.15"/>
<circle cx="414.9" cy="618.7" r="2.15"/>
<circle cx="433.3" cy="609.5" r="2.15"/>
<circle cx="414.8" cy="609.6" r="2.15"/>
<circle cx="413.1" cy="605.2" r="2.15"/>
<circle cx="406.9" cy="609.6" r="2.15"/>
<circle cx="391.7" cy="608.6" r="2.15"/>
<circle cx="422.0" cy="592.2" r="2.15"/>
<circle cx="423.4" cy="587.1" r="2.15"/>
<circle cx="412.7" cy="613.3" r="2.15"/>
<circle cx="404.8" cy="605.7" r="2.15"/>
<circle cx="408.7" cy="604.8" r="2.15"/>
<circle cx="417.4" cy="605.4" r="2.15"/>
<circle cx="428.6" cy="607.6" r="2.15"/>
<circle cx="412.3" cy="605.0" r="2.15"/>
<circle cx="400.4" cy="599.6" r="2.15"/>
<circle cx="408.3" cy="620.0" r="2.15"/>
<circle cx="418.4" cy="614.3" r="2.15"/>
<circle cx="428.1" cy="597.0" r="2.15"/>
<circle cx="409.6" cy="605.8" r="2.15"/>
<circle cx="430.4" cy="595.8" r="2.15"/>
<circle cx="408.3" cy="616.6" r="2.15"/>
<circle cx="430.3" cy="596.1" r="2.15"/>
<circle cx="414.0" cy="620.3" r="2.15"/>
<circle cx="428.6" cy="609.4" r="2.15"/>
<circle cx="408.0" cy="615.0" r="2.15"/>
<circle cx="421.3" cy="582.7" r="2.15"/>
<circle cx="431.1" cy="598.0" r="2.15"/>
<circle cx="413.0" cy="634.5" r="2.15"/>
<circle cx="418.7" cy="596.6" r="2.15"/>
<circle cx="416.3" cy="612.9" r="2.15"/>
<circle cx="426.6" cy="599.2" r="2.15"/>
<circle cx="406.8" cy="604.6" r="2.15"/>
<circle cx="407.4" cy="600.2" r="2.15"/>
<circle cx="416.8" cy="600.5" r="2.15"/>
<circle cx="417.6" cy="596.1" r="2.15"/>
<circle cx="406.8" cy="610.5" r="2.15"/>
<circle cx="412.9" cy="621.8" r="2.15"/>
<circle cx="406.4" cy="615.2" r="2.15"/>
<circle cx="416.5" cy="591.3" r="2.15"/>
<circle cx="425.5" cy="602.4" r="2.15"/>
<circle cx="392.4" cy="628.8" r="2.15"/>
<circle cx="428.0" cy="589.8" r="2.15"/>
<circle cx="436.9" cy="594.9" r="2.15"/>
<circle cx="403.5" cy="621.2" r="2.15"/>
<circle cx="412.8" cy="593.4" r="2.15"/>
<circle cx="391.8" cy="625.1" r="2.15"/>
<circle cx="408.4" cy="618.9" r="2.15"/>
<circle cx="421.5" cy="597.1" r="2.15"/>
<circle cx="410.8" cy="630.2" r="2.15"/>
<circle cx="437.0" cy="601.7" r="2.15"/>
<circle cx="412.8" cy="597.5" r="2.15"/>
<circle cx="412.5" cy="627.9" r="2.15"/>
<circle cx="422.4" cy="599.2" r="2.15"/>
<circle cx="402.6" cy="617.2" r="2.15"/>
<circle cx="406.7" cy="612.8" r="2.15"/>
<circle cx="425.7" cy="612.6" r="2.15"/>
<circle cx="418.6" cy="601.0" r="2.15"/>
<circle cx="419.7" cy="624.9" r="2.15"/>
<circle cx="421.4" cy="587.2" r="2.15"/>
<circle cx="435.2" cy="597.1" r="2.15"/>
<circle cx="415.9" cy="603.3" r="2.15"/>
<circle cx="421.4" cy="596.5" r="2.15"/>
<circle cx="415.6" cy="601.1" r="2.15"/>
<circle cx="410.2" cy="634.6" r="2.15"/>
<circle cx="426.3" cy="612.4" r="2.15"/>
<circle cx="411.2" cy="613.2" r="2.15"/>
<circle cx="414.5" cy="605.3" r="2.15"/>
<circle cx="425.7" cy="607.2" r="2.15"/>
<circle cx="420.6" cy="605.4" r="2.15"/>
<circle cx="400.1" cy="608.5" r="2.15"/>
<circle cx="421.5" cy="599.0" r="2.15"/>
<circle cx="407.9" cy="615.9" r="2.15"/>
<circle cx="406.2" cy="605.3" r="2.15"/>
<circle cx="427.3" cy="595.3" r="2.15"/>
<circle cx="433.7" cy="601.2" r="2.15"/>
<circle cx="426.5" cy="612.8" r="2.15"/>
<circle cx="391.8" cy="621.4" r="2.15"/>
<circle cx="401.9" cy="610.5" r="2.15"/>
<circle cx="415.8" cy="620.9" r="2.15"/>
<circle cx="416.5" cy="625.0" r="2.15"/>
<circle cx="410.9" cy="609.3" r="2.15"/>
<circle cx="418.1" cy="616.0" r="2.15"/>
<circle cx="416.4" cy="599.4" r="2.15"/>
<circle cx="413.2" cy="592.6" r="2.15"/>
<circle cx="431.7" cy="605.0" r="2.15"/>
<circle cx="422.0" cy="605.9" r="2.15"/>
<circle cx="409.9" cy="605.9" r="2.15"/>
<circle cx="426.4" cy="591.0" r="2.15"/>
<circle cx="407.9" cy="629.8" r="2.15"/>
<circle cx="435.2" cy="597.6" r="2.15"/>
<circle cx="423.2" cy="604.1" r="2.15"/>
<circle cx="433.6" cy="590.3" r="2.15"/>
<circle cx="418.0" cy="610.9" r="2.15"/>
<circle cx="433.8" cy="592.4" r="2.15"/>
<circle cx="419.7" cy="598.7" r="2.15"/>
<circle cx="409.4" cy="603.5" r="2.15"/>
<circle cx="418.0" cy="615.4" r="2.15"/>
<circle cx="409.0" cy="604.4" r="2.15"/>
<circle cx="412.3" cy="613.0" r="2.15"/>
<circle cx="425.1" cy="586.6" r="2.15"/>
<circle cx="421.1" cy="592.1" r="2.15"/>
<circle cx="425.3" cy="589.8" r="2.15"/>
<circle cx="404.5" cy="606.1" r="2.15"/>
<circle cx="416.3" cy="595.2" r="2.15"/>
<circle cx="419.4" cy="606.1" r="2.15"/>
<circle cx="418.0" cy="608.4" r="2.15"/>
<circle cx="427.1" cy="591.2" r="2.15"/>
<circle cx="417.0" cy="605.7" r="2.15"/>
<circle cx="393.3" cy="625.7" r="2.15"/>
<circle cx="408.1" cy="603.7" r="2.15"/>
<circle cx="411.9" cy="610.4" r="2.15"/>
<circle cx="420.8" cy="609.0" r="2.15"/>
<circle cx="409.0" cy="619.0" r="2.15"/>
<circle cx="421.8" cy="598.5" r="2.15"/>
<circle cx="416.8" cy="615.2" r="2.15"/>
<circle cx="422.0" cy="610.6" r="2.15"/>
<circle cx="418.2" cy="618.0" r="2.15"/>
<circle cx="398.6" cy="637.3" r="2.15"/>
<circle cx="410.4" cy="594.7" r="2.15"/>
<circle cx="389.7" cy="628.4" r="2.15"/>
<circle cx="429.6" cy="609.1" r="2.15"/>
<circle cx="412.6" cy="625.1" r="2.15"/>
<circle cx="416.1" cy="599.9" r="2.15"/>
<circle cx="417.8" cy="607.9" r="2.15"/>
<circle cx="417.6" cy="610.1" r="2.15"/>
<circle cx="391.8" cy="639.9" r="2.15"/>
<circle cx="410.5" cy="617.5" r="2.15"/>
<circle cx="407.8" cy="613.8" r="2.15"/>
<circle cx="415.0" cy="589.6" r="2.15"/>
<circle cx="421.4" cy="610.3" r="2.15"/>
<circle cx="404.2" cy="590.8" r="2.15"/>
<circle cx="409.6" cy="601.4" r="2.15"/>
<circle cx="418.3" cy="605.0" r="2.15"/>
<circle cx="435.5" cy="601.3" r="2.15"/>
<circle cx="414.1" cy="609.7" r="2.15"/>
<circle cx="406.4" cy="611.6" r="2.15"/>
<circle cx="420.7" cy="606.0" r="2.15"/>
<circle cx="427.8" cy="591.3" r="2.15"/>
<circle cx="420.5" cy="602.3" r="2.15"/>
<circle cx="417.2" cy="609.5" r="2.15"/>
<circle cx="413.8" cy="610.5" r="2.15"/>
<circle cx="416.6" cy="617.7" r="2.15"/>
<circle cx="415.7" cy="610.2" r="2.15"/>
<circle cx="422.9" cy="614.3" r="2.15"/>
<circle cx="405.4" cy="621.4" r="2.15"/>
<circle cx="425.6" cy="605.4" r="2.15"/>
<circle cx="428.2" cy="607.6" r="2.15"/>
<circle cx="430.7" cy="590.0" r="2.15"/>
<circle cx="422.0" cy="596.7" r="2.15"/>
<circle cx="431.2" cy="598.3" r="2.15"/>
<circle cx="402.1" cy="616.9" r="2.15"/>
<circle cx="405.5" cy="624.4" r="2.15"/>
<circle cx="413.1" cy="584.0" r="2.15"/>
<circle cx="412.6" cy="620.3" r="2.15"/>
<circle cx="420.8" cy="596.5" r="2.15"/>
<circle cx="424.4" cy="607.6" r="2.15"/>
<circle cx="433.9" cy="605.2" r="2.15"/>
<circle cx="421.2" cy="594.5" r="2.15"/>
<circle cx="420.3" cy="607.3" r="2.15"/>
<circle cx="417.2" cy="610.6" r="2.15"/>
<circle cx="403.4" cy="621.1" r="2.15"/>
<circle cx="417.1" cy="609.9" r="2.15"/>
<circle cx="415.9" cy="603.4" r="2.15"/>
<circle cx="419.9" cy="612.9" r="2.15"/>
<circle cx="413.3" cy="612.0" r="2.15"/>
<circle cx="408.2" cy="616.3" r="2.15"/>
<circle cx="417.2" cy="591.6" r="2.15"/>
<circle cx="430.3" cy="587.5" r="2.15"/>
<circle cx="417.9" cy="590.8" r="2.15"/>
<circle cx="397.2" cy="626.1" r="2.15"/>
<circle cx="401.0" cy="593.2" r="2.15"/>
<circle cx="414.5" cy="590.3" r="2.15"/>
<circle cx="414.7" cy="627.9" r="2.15"/>
<circle cx="412.5" cy="612.9" r="2.15"/>
<circle cx="423.4" cy="604.6" r="2.15"/>
<circle cx="415.6" cy="623.6" r="2.15"/>
<circle cx="416.1" cy="610.6" r="2.15"/>
<circle cx="418.3" cy="590.9" r="2.15"/>
<circle cx="420.7" cy="604.3" r="2.15"/>
<circle cx="424.4" cy="608.9" r="2.15"/>
<circle cx="410.6" cy="604.8" r="2.15"/>
<circle cx="407.2" cy="616.9" r="2.15"/>
<circle cx="416.1" cy="608.1" r="2.15"/>
<circle cx="398.4" cy="607.4" r="2.15"/>
<circle cx="416.3" cy="601.5" r="2.15"/>
<circle cx="410.1" cy="609.2" r="2.15"/>
<circle cx="413.8" cy="596.2" r="2.15"/>
<circle cx="436.0" cy="586.2" r="2.15"/>
<circle cx="424.4" cy="607.8" r="2.15"/>
<circle cx="428.0" cy="592.6" r="2.15"/>
<circle cx="405.6" cy="618.2" r="2.15"/>
<circle cx="420.0" cy="578.0" r="2.15"/>
<circle cx="387.2" cy="619.2" r="2.15"/>
<circle cx="412.6" cy="605.9" r="2.15"/>
<circle cx="421.7" cy="592.2" r="2.15"/>
<circle cx="431.8" cy="599.5" r="2.15"/>
<circle cx="393.4" cy="623.9" r="2.15"/>
<circle cx="410.7" cy="614.9" r="2.15"/>
<circle cx="415.7" cy="614.2" r="2.15"/>
<circle cx="407.0" cy="608.4" r="2.15"/>
<circle cx="417.1" cy="597.6" r="2.15"/>
<circle cx="416.3" cy="590.4" r="2.15"/>
<circle cx="432.2" cy="607.4" r="2.15"/>
<circle cx="417.8" cy="585.6" r="2.15"/>
<circle cx="431.6" cy="601.5" r="2.15"/>
<circle cx="433.8" cy="588.2" r="2.15"/>
<circle cx="430.5" cy="593.9" r="2.15"/>
<circle cx="426.9" cy="618.7" r="2.15"/>
<circle cx="424.9" cy="615.8" r="2.15"/>
<circle cx="417.0" cy="579.5" r="2.15"/>
<circle cx="421.4" cy="606.0" r="2.15"/>
<circle cx="410.9" cy="596.9" r="2.15"/>
<circle cx="415.0" cy="596.6" r="2.15"/>
<circle cx="420.2" cy="611.4" r="2.15"/>
<circle cx="427.2" cy="609.8" r="2.15"/>
<circle cx="422.2" cy="615.7" r="2.15"/>
<circle cx="416.6" cy="606.3" r="2.15"/>
<circle cx="426.7" cy="603.0" r="2.15"/>
<circle cx="414.1" cy="582.6" r="2.15"/>
<circle cx="407.8" cy="595.4" r="2.15"/>
<circle cx="423.6" cy="613.9" r="2.15"/>
<circle cx="427.9" cy="593.1" r="2.15"/>
<circle cx="434.7" cy="591.6" r="2.15"/>
<circle cx="427.9" cy="582.3" r="2.15"/>
<circle cx="429.1" cy="609.8" r="2.15"/>
<circle cx="427.0" cy="617.6" r="2.15"/>
<circle cx="428.6" cy="607.1" r="2.15"/>
<circle cx="411.7" cy="602.8" r="2.15"/>
<circle cx="433.7" cy="590.0" r="2.15"/>
<circle cx="436.2" cy="604.0" r="2.15"/>
<circle cx="417.6" cy="579.1" r="2.15"/>
<circle cx="417.5" cy="587.2" r="2.15"/>
<circle cx="425.9" cy="620.4" r="2.15"/>
<circle cx="434.1" cy="607.2" r="2.15"/>
<circle cx="417.4" cy="584.0" r="2.15"/>
<circle cx="427.0" cy="604.5" r="2.15"/>
<circle cx="427.9" cy="596.2" r="2.15"/>
<circle cx="433.4" cy="588.8" r="2.15"/>
<circle cx="414.8" cy="591.3" r="2.15"/>
<circle cx="424.9" cy="620.3" r="2.15"/>
<circle cx="410.4" cy="608.1" r="2.15"/>
<circle cx="429.5" cy="589.3" r="2.15"/>
<circle cx="428.3" cy="598.2" r="2.15"/>
<circle cx="418.6" cy="603.3" r="2.15"/>
<circle cx="434.0" cy="592.9" r="2.15"/>
<circle cx="414.0" cy="606.8" r="2.15"/>
<circle cx="423.0" cy="606.8" r="2.15"/>
<circle cx="410.9" cy="587.8" r="2.15"/>
<circle cx="424.0" cy="608.7" r="2.15"/>
<circle cx="427.1" cy="612.5" r="2.15"/>
<circle cx="415.2" cy="618.1" r="2.15"/>
<circle cx="412.3" cy="611.1" r="2.15"/>
<circle cx="431.9" cy="600.9" r="2.15"/>
<circle cx="409.9" cy="607.3" r="2.15"/>
<circle cx="428.6" cy="616.6" r="2.15"/>
<circle cx="430.7" cy="611.8" r="2.15"/>
<circle cx="417.0" cy="600.1" r="2.15"/>
<circle cx="426.8" cy="613.2" r="2.15"/>
<circle cx="407.7" cy="597.5" r="2.15"/>
<circle cx="422.4" cy="596.3" r="2.15"/>
<circle cx="408.8" cy="606.5" r="2.15"/>
<circle cx="417.0" cy="610.5" r="2.15"/>
<circle cx="429.3" cy="612.2" r="2.15"/>
<circle cx="414.5" cy="584.4" r="2.15"/>
<circle cx="420.3" cy="595.3" r="2.15"/>
<circle cx="417.2" cy="592.4" r="2.15"/>
<circle cx="421.0" cy="611.1" r="2.15"/>
<circle cx="430.2" cy="605.5" r="2.15"/>
<circle cx="414.5" cy="594.5" r="2.15"/>
<circle cx="432.1" cy="602.9" r="2.15"/>
<circle cx="412.6" cy="609.6" r="2.15"/>
<circle cx="408.1" cy="601.0" r="2.15"/>
<circle cx="436.5" cy="603.9" r="2.15"/>
<circle cx="407.9" cy="595.4" r="2.15"/>
<circle cx="429.5" cy="595.6" r="2.15"/>
<circle cx="419.7" cy="596.6" r="2.15"/>
<circle cx="421.5" cy="581.4" r="2.15"/>
<circle cx="419.2" cy="600.7" r="2.15"/>
<circle cx="421.3" cy="581.4" r="2.15"/>
<circle cx="417.6" cy="614.8" r="2.15"/>
<circle cx="418.9" cy="606.3" r="2.15"/>
<circle cx="433.9" cy="608.7" r="2.15"/>
<circle cx="425.3" cy="580.7" r="2.15"/>
<circle cx="418.2" cy="619.2" r="2.15"/>
<circle cx="418.5" cy="591.5" r="2.15"/>
<circle cx="420.0" cy="592.2" r="2.15"/>
<circle cx="426.3" cy="584.7" r="2.15"/>
<circle cx="410.4" cy="600.1" r="2.15"/>
<circle cx="407.4" cy="596.5" r="2.15"/>
<circle cx="424.2" cy="585.3" r="2.15"/>
<circle cx="410.9" cy="598.7" r="2.15"/>
<circle cx="430.3" cy="529.7" r="2.15"/>
<circle cx="446.5" cy="544.6" r="2.15"/>
<circle cx="426.0" cy="548.3" r="2.15"/>
<circle cx="417.2" cy="552.0" r="2.15"/>
<circle cx="424.9" cy="552.6" r="2.15"/>
<circle cx="432.3" cy="553.6" r="2.15"/>
<circle cx="433.1" cy="555.7" r="2.15"/>
<circle cx="418.6" cy="559.3" r="2.15"/>
<circle cx="420.3" cy="561.0" r="2.15"/>
<circle cx="427.3" cy="562.4" r="2.15"/>
<circle cx="441.8" cy="562.0" r="2.15"/>
<circle cx="450.9" cy="563.1" r="2.15"/>
<circle cx="410.5" cy="567.4" r="2.15"/>
<circle cx="424.9" cy="567.1" r="2.15"/>
<circle cx="427.3" cy="567.8" r="2.15"/>
<circle cx="431.6" cy="566.4" r="2.15"/>
<circle cx="440.1" cy="566.4" r="2.15"/>
<circle cx="441.4" cy="565.1" r="2.15"/>
<circle cx="412.8" cy="571.8" r="2.15"/>
<circle cx="418.6" cy="572.5" r="2.15"/>
<circle cx="423.9" cy="570.9" r="2.15"/>
<circle cx="434.0" cy="570.5" r="2.15"/>
<circle cx="403.7" cy="576.5" r="2.15"/>
<circle cx="416.5" cy="574.5" r="2.15"/>
<circle cx="421.9" cy="573.8" r="2.15"/>
<circle cx="424.6" cy="573.2" r="2.15"/>
<circle cx="435.4" cy="575.2" r="2.15"/>
<circle cx="443.2" cy="576.5" r="2.15"/>
<circle cx="409.1" cy="578.5" r="2.15"/>
<circle cx="415.2" cy="577.2" r="2.15"/>
<circle cx="421.9" cy="577.9" r="2.15"/>
<circle cx="430.7" cy="579.2" r="2.15"/>
<circle cx="434.0" cy="578.5" r="2.15"/>
<circle cx="457.3" cy="592.1" r="2.15"/>
<circle cx="447.1" cy="581.3" r="2.15"/>
<circle cx="443.1" cy="576.7" r="2.15"/>
<circle cx="446.3" cy="595.8" r="2.15"/>
<circle cx="444.2" cy="604.1" r="2.15"/>
<circle cx="444.6" cy="613.4" r="2.15"/>
<circle cx="445.6" cy="586.5" r="2.15"/>
<circle cx="441.7" cy="587.1" r="2.15"/>
<circle cx="441.3" cy="599.2" r="2.15"/>
<circle cx="439.4" cy="601.0" r="2.15"/>
<circle cx="439.0" cy="592.9" r="2.15"/>
<circle cx="439.6" cy="607.9" r="2.15"/>
<circle cx="437.3" cy="611.9" r="2.15"/>
<circle cx="431.0" cy="623.5" r="2.15"/>
<circle cx="389.2" cy="585.8" r="2.15"/>
<circle cx="395.0" cy="585.0" r="2.15"/>
<circle cx="403.7" cy="577.3" r="2.15"/>
<circle cx="409.4" cy="578.7" r="2.15"/>
<circle cx="360.0" cy="596.0" r="2.15"/>
<circle cx="370.0" cy="598.5" r="2.15"/>
<circle cx="373.8" cy="603.1" r="2.15"/>
<circle cx="384.4" cy="600.8" r="2.15"/>
<circle cx="391.2" cy="599.8" r="2.15"/>
<circle cx="396.0" cy="593.1" r="2.15"/>
<circle cx="358.1" cy="605.6" r="2.15"/>
<circle cx="357.5" cy="610.4" r="2.15"/>
<circle cx="364.2" cy="614.2" r="2.15"/>
<circle cx="371.9" cy="609.4" r="2.15"/>
<circle cx="371.0" cy="614.2" r="2.15"/>
<circle cx="348.8" cy="618.5" r="2.15"/>
<circle cx="352.3" cy="618.1" r="2.15"/>
<circle cx="359.4" cy="616.2" r="2.15"/>
<circle cx="364.2" cy="620.4" r="2.15"/>
<circle cx="366.2" cy="622.9" r="2.15"/>
<circle cx="351.7" cy="627.7" r="2.15"/>
<circle cx="360.4" cy="626.2" r="2.15"/>
<circle cx="369.0" cy="627.3" r="2.15"/>
<circle cx="373.8" cy="621.0" r="2.15"/>
<circle cx="376.7" cy="620.0" r="2.15"/>
<circle cx="380.6" cy="621.9" r="2.15"/>
<circle cx="385.4" cy="614.2" r="2.15"/>
<circle cx="386.3" cy="618.1" r="2.15"/>
<circle cx="375.8" cy="631.5" r="2.15"/>
<circle cx="376.7" cy="628.7" r="2.15"/>
<circle cx="381.5" cy="627.7" r="2.15"/>
<circle cx="385.4" cy="626.7" r="2.15"/>
<circle cx="391.2" cy="631.5" r="2.15"/>
<circle cx="389.2" cy="635.4" r="2.15"/>
<circle cx="396.0" cy="635.4" r="2.15"/>
<circle cx="392.1" cy="638.3" r="2.15"/>
<circle cx="370.0" cy="644.0" r="2.15"/>
<circle cx="376.7" cy="642.7" r="2.15"/>
<circle cx="383.5" cy="642.7" r="2.15"/>
<circle cx="370.0" cy="648.8" r="2.15"/>
<circle cx="375.8" cy="647.3" r="2.15"/>
<circle cx="383.5" cy="647.9" r="2.15"/>
<circle cx="390.2" cy="646.0" r="2.15"/>
<circle cx="397.9" cy="646.9" r="2.15"/>
<circle cx="405.6" cy="645.0" r="2.15"/>
<circle cx="419.0" cy="642.1" r="2.15"/>
<circle cx="421.9" cy="644.0" r="2.15"/>
<circle cx="428.7" cy="636.3" r="2.15"/>
<circle cx="406.5" cy="635.4" r="2.15"/>
<circle cx="402.7" cy="631.5" r="2.15"/>
<circle cx="332.7" cy="625.0" r="2.15"/>
<circle cx="351.5" cy="628.3" r="2.15"/>
<circle cx="349.6" cy="618.7" r="2.15"/>
<circle cx="353.1" cy="618.7" r="2.15"/>
<circle cx="357.7" cy="617.7" r="2.15"/>
<circle cx="357.7" cy="610.0" r="2.15"/>
<circle cx="358.3" cy="605.4" r="2.15"/>
<circle cx="360.2" cy="626.0" r="2.15"/>
<circle cx="363.1" cy="619.2" r="2.15"/>
<circle cx="366.0" cy="611.9" r="2.15"/>
<circle cx="368.8" cy="627.3" r="2.15"/>
<circle cx="364.0" cy="622.1" r="2.15"/>
<circle cx="370.8" cy="614.4" r="2.15"/>
<circle cx="372.3" cy="609.2" r="2.15"/>
<circle cx="373.7" cy="603.5" r="2.15"/>
<circle cx="373.7" cy="623.1" r="2.15"/>
<circle cx="375.6" cy="630.8" r="2.15"/>
<circle cx="377.5" cy="627.9" r="2.15"/>
<circle cx="375.6" cy="620.2" r="2.15"/>
<circle cx="379.4" cy="620.2" r="2.15"/>
<circle cx="384.2" cy="614.4" r="2.15"/>
<circle cx="384.2" cy="619.2" r="2.15"/>
<circle cx="386.2" cy="625.0" r="2.15"/>
<circle cx="369.8" cy="644.2" r="2.15"/>
<circle cx="370.4" cy="649.0" r="2.15"/>
<circle cx="375.6" cy="647.1" r="2.15"/>
<circle cx="378.1" cy="642.3" r="2.15"/>
<circle cx="380.0" cy="651.9" r="2.15"/>
<circle cx="383.8" cy="642.3" r="2.15"/>
<circle cx="384.2" cy="649.6" r="2.15"/>
<circle cx="388.0" cy="646.2" r="2.15"/>
<circle cx="356.3" cy="651.9" r="2.15"/>
<circle cx="373.1" cy="659.6" r="2.15"/>
<circle cx="377.5" cy="668.7" r="2.15"/>
<circle cx="385.2" cy="601.0" r="2.15"/>
<circle cx="388.0" cy="607.7" r="2.15"/>
<circle cx="407.0" cy="652.8" r="2.15"/>
<circle cx="410.6" cy="656.4" r="2.15"/>
<circle cx="419.1" cy="643.3" r="2.15"/>
<circle cx="421.2" cy="645.8" r="2.15"/>
<circle cx="428.8" cy="636.5" r="2.15"/>
<circle cx="397.5" cy="647.5" r="2.15"/>
<circle cx="403.8" cy="647.9" r="2.15"/>
<circle cx="406.0" cy="645.4" r="2.15"/>
<circle cx="388.0" cy="646.4" r="2.15"/>
<circle cx="383.1" cy="648.6" r="2.15"/>
<circle cx="379.5" cy="651.7" r="2.15"/>
<circle cx="375.3" cy="647.1" r="2.15"/>
<circle cx="383.8" cy="642.2" r="2.15"/>
<circle cx="378.0" cy="642.2" r="2.15"/>
<circle cx="391.2" cy="638.0" r="2.15"/>
<circle cx="395.4" cy="635.2" r="2.15"/>
<circle cx="390.1" cy="633.1" r="2.15"/>
</g>
<text x="291.40" y="616.80" font-size="7.6" text-anchor="middle" fill="#333" textLength="8.5" lengthAdjust="spacingAndGlyphs">&#8722;4</text>
<text x="327.90" y="616.80" font-size="7.6" text-anchor="middle" fill="#333" textLength="8.5" lengthAdjust="spacingAndGlyphs">&#8722;3</text>
<text x="363.30" y="616.80" font-size="7.6" text-anchor="middle" fill="#333" textLength="8.5" lengthAdjust="spacingAndGlyphs">&#8722;2</text>
<text x="470.60" y="616.60" font-size="8.2" text-anchor="middle" fill="#333" textLength="3.4" lengthAdjust="spacingAndGlyphs">1</text>
<text x="429.20" y="517.90" font-size="8.0" text-anchor="end" fill="#333" textLength="4.2" lengthAdjust="spacingAndGlyphs">2</text>
<text x="429.20" y="561.00" font-size="8.0" text-anchor="end" fill="#333" textLength="3.4" lengthAdjust="spacingAndGlyphs">1</text>
<text x="431.40" y="649.30" font-size="8.0" text-anchor="end" fill="#333" textLength="9.5" lengthAdjust="spacingAndGlyphs">&#8722;1</text>
<text x="431.40" y="692.10" font-size="8.0" text-anchor="end" fill="#333" textLength="9.5" lengthAdjust="spacingAndGlyphs">&#8722;2</text>
<text x="310.80" y="636.30" font-size="8.3" text-anchor="start" fill="#333" textLength="29.6" lengthAdjust="spacingAndGlyphs">Tsc22d2</text>
<text x="342.30" y="638.10" font-size="8.3" text-anchor="start" fill="#333" textLength="21.7" lengthAdjust="spacingAndGlyphs">Pcdh7</text>
<text x="366.90" y="639.20" font-size="8.3" text-anchor="start" fill="#333" textLength="22.1" lengthAdjust="spacingAndGlyphs">Baz2b</text>
<text x="328.80" y="654.60" font-size="8.3" text-anchor="start" fill="#333" textLength="22.4" lengthAdjust="spacingAndGlyphs">Mef2c</text>
<text x="348.00" y="665.60" font-size="8.3" text-anchor="start" fill="#333" textLength="20.5" lengthAdjust="spacingAndGlyphs">Meis1</text>
<text x="378.00" y="663.60" font-size="8.3" text-anchor="start" fill="#333" textLength="15.7" lengthAdjust="spacingAndGlyphs">Eya1</text>
<text x="386.90" y="656.80" font-size="8.3" text-anchor="start" fill="#333" textLength="18.0" lengthAdjust="spacingAndGlyphs">Cdk6</text>
<text x="407.00" y="667.40" font-size="8.3" text-anchor="start" fill="#333" textLength="26.0" lengthAdjust="spacingAndGlyphs">Mecom</text>
<text x="380.20" y="675.60" font-size="8.3" text-anchor="start" fill="#333" textLength="31.5" lengthAdjust="spacingAndGlyphs">Dennda1</text>
<text transform="translate(479.6 602.6) rotate(90)" font-size="8.4" text-anchor="middle" fill="#333" textLength="73" lengthAdjust="spacingAndGlyphs">Log2 MLL1 occupancy</text>
<text x="324.60" y="703.40" font-size="8.6" text-anchor="start" fill="#333" textLength="72.0" lengthAdjust="spacingAndGlyphs">Log2 NUP98-HOXD13</text>
<text x="397.20" y="700.00" font-size="5.4" text-anchor="start" fill="#333" textLength="6.4" lengthAdjust="spacingAndGlyphs">bio</text>
<text x="406.10" y="703.40" font-size="8.6" text-anchor="start" fill="#333" textLength="33.8" lengthAdjust="spacingAndGlyphs">occupancy</text>
<rect x="0.55" y="0.55" width="518.9" height="710.9" fill="none" stroke="#1c1a1b" stroke-width="1.1"/>
</svg></body></html>
